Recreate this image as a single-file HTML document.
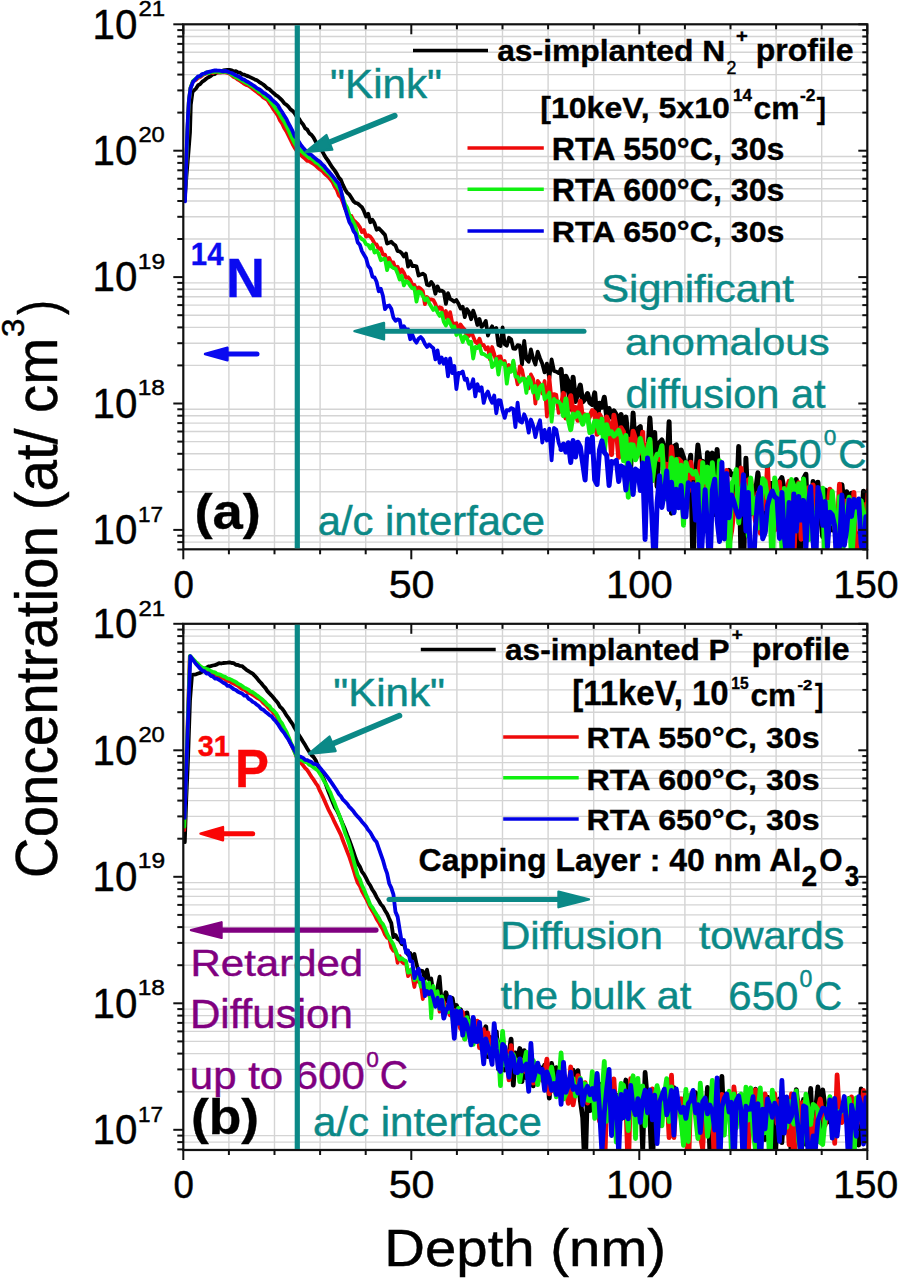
<!DOCTYPE html><html><head><meta charset="utf-8"><style>html,body{margin:0;padding:0;background:#fff;width:901px;height:1280px;overflow:hidden;}svg text{font-family:"Liberation Sans",sans-serif;}</style></head><body><svg width="901" height="1280" viewBox="0 0 901 1280" style="position:absolute;left:0;top:0">
<defs>
<clipPath id="clipa"><rect x="183.3" y="24.3" width="684.0" height="525.0"/></clipPath>
<clipPath id="clipb"><rect x="183.3" y="623.8" width="684.0" height="526.2"/></clipPath>
</defs>
<rect width="901" height="1280" fill="#fff"/>
<g stroke="#d4d4d4" stroke-width="1.4"><line x1="228.9" y1="24.3" x2="228.9" y2="549.3"/><line x1="274.5" y1="24.3" x2="274.5" y2="549.3"/><line x1="320.1" y1="24.3" x2="320.1" y2="549.3"/><line x1="365.7" y1="24.3" x2="365.7" y2="549.3"/><line x1="456.9" y1="24.3" x2="456.9" y2="549.3"/><line x1="502.5" y1="24.3" x2="502.5" y2="549.3"/><line x1="548.1" y1="24.3" x2="548.1" y2="549.3"/><line x1="593.7" y1="24.3" x2="593.7" y2="549.3"/><line x1="684.9" y1="24.3" x2="684.9" y2="549.3"/><line x1="730.5" y1="24.3" x2="730.5" y2="549.3"/><line x1="776.1" y1="24.3" x2="776.1" y2="549.3"/><line x1="821.7" y1="24.3" x2="821.7" y2="549.3"/><line x1="183.3" y1="542.1" x2="867.3" y2="542.1"/><line x1="183.3" y1="535.7" x2="867.3" y2="535.7"/><line x1="183.3" y1="491.8" x2="867.3" y2="491.8"/><line x1="183.3" y1="469.6" x2="867.3" y2="469.6"/><line x1="183.3" y1="453.8" x2="867.3" y2="453.8"/><line x1="183.3" y1="441.6" x2="867.3" y2="441.6"/><line x1="183.3" y1="431.5" x2="867.3" y2="431.5"/><line x1="183.3" y1="423.1" x2="867.3" y2="423.1"/><line x1="183.3" y1="415.7" x2="867.3" y2="415.7"/><line x1="183.3" y1="409.3" x2="867.3" y2="409.3"/><line x1="183.3" y1="365.4" x2="867.3" y2="365.4"/><line x1="183.3" y1="343.2" x2="867.3" y2="343.2"/><line x1="183.3" y1="327.4" x2="867.3" y2="327.4"/><line x1="183.3" y1="315.2" x2="867.3" y2="315.2"/><line x1="183.3" y1="305.1" x2="867.3" y2="305.1"/><line x1="183.3" y1="296.7" x2="867.3" y2="296.7"/><line x1="183.3" y1="289.3" x2="867.3" y2="289.3"/><line x1="183.3" y1="282.9" x2="867.3" y2="282.9"/><line x1="183.3" y1="239.0" x2="867.3" y2="239.0"/><line x1="183.3" y1="216.8" x2="867.3" y2="216.8"/><line x1="183.3" y1="201.0" x2="867.3" y2="201.0"/><line x1="183.3" y1="188.8" x2="867.3" y2="188.8"/><line x1="183.3" y1="178.7" x2="867.3" y2="178.7"/><line x1="183.3" y1="170.3" x2="867.3" y2="170.3"/><line x1="183.3" y1="162.9" x2="867.3" y2="162.9"/><line x1="183.3" y1="156.5" x2="867.3" y2="156.5"/><line x1="183.3" y1="112.6" x2="867.3" y2="112.6"/><line x1="183.3" y1="90.4" x2="867.3" y2="90.4"/><line x1="183.3" y1="74.6" x2="867.3" y2="74.6"/><line x1="183.3" y1="62.4" x2="867.3" y2="62.4"/><line x1="183.3" y1="52.3" x2="867.3" y2="52.3"/><line x1="183.3" y1="43.9" x2="867.3" y2="43.9"/><line x1="183.3" y1="36.5" x2="867.3" y2="36.5"/><line x1="183.3" y1="30.1" x2="867.3" y2="30.1"/></g>
<g stroke="#d4d4d4" stroke-width="1.4"><line x1="228.9" y1="623.8" x2="228.9" y2="1150.0"/><line x1="274.5" y1="623.8" x2="274.5" y2="1150.0"/><line x1="320.1" y1="623.8" x2="320.1" y2="1150.0"/><line x1="365.7" y1="623.8" x2="365.7" y2="1150.0"/><line x1="456.9" y1="623.8" x2="456.9" y2="1150.0"/><line x1="502.5" y1="623.8" x2="502.5" y2="1150.0"/><line x1="548.1" y1="623.8" x2="548.1" y2="1150.0"/><line x1="593.7" y1="623.8" x2="593.7" y2="1150.0"/><line x1="684.9" y1="623.8" x2="684.9" y2="1150.0"/><line x1="730.5" y1="623.8" x2="730.5" y2="1150.0"/><line x1="776.1" y1="623.8" x2="776.1" y2="1150.0"/><line x1="821.7" y1="623.8" x2="821.7" y2="1150.0"/><line x1="183.3" y1="1149.4" x2="867.3" y2="1149.4"/><line x1="183.3" y1="1142.1" x2="867.3" y2="1142.1"/><line x1="183.3" y1="1135.6" x2="867.3" y2="1135.6"/><line x1="183.3" y1="1091.7" x2="867.3" y2="1091.7"/><line x1="183.3" y1="1069.4" x2="867.3" y2="1069.4"/><line x1="183.3" y1="1053.6" x2="867.3" y2="1053.6"/><line x1="183.3" y1="1041.4" x2="867.3" y2="1041.4"/><line x1="183.3" y1="1031.4" x2="867.3" y2="1031.4"/><line x1="183.3" y1="1022.9" x2="867.3" y2="1022.9"/><line x1="183.3" y1="1015.6" x2="867.3" y2="1015.6"/><line x1="183.3" y1="1009.1" x2="867.3" y2="1009.1"/><line x1="183.3" y1="965.2" x2="867.3" y2="965.2"/><line x1="183.3" y1="942.9" x2="867.3" y2="942.9"/><line x1="183.3" y1="927.1" x2="867.3" y2="927.1"/><line x1="183.3" y1="914.9" x2="867.3" y2="914.9"/><line x1="183.3" y1="904.9" x2="867.3" y2="904.9"/><line x1="183.3" y1="896.4" x2="867.3" y2="896.4"/><line x1="183.3" y1="889.1" x2="867.3" y2="889.1"/><line x1="183.3" y1="882.6" x2="867.3" y2="882.6"/><line x1="183.3" y1="838.7" x2="867.3" y2="838.7"/><line x1="183.3" y1="816.4" x2="867.3" y2="816.4"/><line x1="183.3" y1="800.6" x2="867.3" y2="800.6"/><line x1="183.3" y1="788.4" x2="867.3" y2="788.4"/><line x1="183.3" y1="778.4" x2="867.3" y2="778.4"/><line x1="183.3" y1="769.9" x2="867.3" y2="769.9"/><line x1="183.3" y1="762.6" x2="867.3" y2="762.6"/><line x1="183.3" y1="756.1" x2="867.3" y2="756.1"/><line x1="183.3" y1="712.2" x2="867.3" y2="712.2"/><line x1="183.3" y1="689.9" x2="867.3" y2="689.9"/><line x1="183.3" y1="674.1" x2="867.3" y2="674.1"/><line x1="183.3" y1="661.9" x2="867.3" y2="661.9"/><line x1="183.3" y1="651.9" x2="867.3" y2="651.9"/><line x1="183.3" y1="643.4" x2="867.3" y2="643.4"/><line x1="183.3" y1="636.1" x2="867.3" y2="636.1"/><line x1="183.3" y1="629.6" x2="867.3" y2="629.6"/></g>
<path d="M184.6,200.8 L186.5,175.4 L188.5,151.8 L190.0,132.3 L190.8,104.8 L192.5,91.9 L196.0,88.5 L198.1,85.2 L200.2,84.1 L202.3,81.6 L204.4,80.3 L206.5,78.5 L208.6,77.2 L210.7,76.1 L212.8,74.3 L214.9,74.0 L217.0,72.3 L219.1,72.3 L221.2,72.4 L223.3,70.5 L225.4,70.2 L227.5,69.9 L229.6,69.9 L231.7,70.3 L233.8,71.8 L235.9,71.2 L238.0,72.4 L240.1,72.7 L242.2,74.3 L244.3,74.6 L246.4,75.6 L248.5,76.4 L250.6,77.4 L252.7,78.4 L254.8,79.4 L256.9,80.3 L259.0,81.8 L261.1,83.2 L263.2,84.5 L265.3,86.3 L267.4,88.3 L269.5,89.3 L271.6,91.4 L273.7,93.2 L275.8,95.2 L277.9,96.4 L280.0,98.3 L282.1,100.4 L284.2,103.2 L286.3,104.7 L288.4,106.7 L290.5,109.4 L292.6,110.8 L294.7,113.4 L296.8,116.6 L298.9,118.6 L301.0,122.0 L303.1,124.4 L305.2,128.3 L307.3,129.7 L309.4,133.4 L311.5,134.8 L313.6,137.6 L315.7,141.6 L317.8,144.3 L319.9,148.1 L322.0,150.8 L324.1,154.7 L326.2,158.2 L328.3,161.0 L330.4,164.4 L332.5,167.7 L334.6,170.4 L336.7,173.6 L338.8,177.6 L340.9,179.9 L343.0,185.1 L345.1,189.4 L347.2,192.8 L349.3,194.4 L351.4,197.7 L353.5,201.2 L355.6,202.9 L357.7,203.5 L359.8,205.4 L361.9,207.2 L364.0,211.2 L366.1,216.6 L368.2,213.8 L370.3,222.2 L372.4,219.7 L374.5,223.3 L376.6,229.7 L378.7,228.2 L380.8,230.3 L382.9,232.6 L385.0,234.9 L387.1,243.6 L389.2,242.7 L391.3,241.7 L393.4,244.0 L395.5,245.6 L397.6,251.2 L399.7,251.4 L401.8,253.2 L403.9,256.5 L406.0,253.6 L408.1,266.6 L410.2,261.1 L412.3,266.1 L414.4,265.9 L416.5,266.4 L418.6,275.5 L420.7,274.6 L422.8,273.7 L424.9,275.0 L427.0,284.7 L429.1,285.4 L431.2,281.9 L433.3,284.8 L435.4,293.7 L437.5,286.4 L439.6,291.0 L441.7,290.6 L443.8,292.0 L445.9,303.9 L448.0,293.1 L450.1,298.9 L452.2,300.2 L454.3,301.6 L456.4,300.1 L458.5,303.7 L460.6,308.6 L462.7,306.7 L464.8,317.1 L466.9,309.1 L469.0,312.0 L471.1,319.2 L473.2,310.7 L475.3,316.8 L477.4,325.0 L479.5,319.0 L481.6,326.9 L483.7,324.7 L485.8,320.9 L487.9,335.6 L490.0,330.1 L492.1,326.3 L494.2,331.0 L496.3,328.1 L498.4,345.1 L500.5,346.0 L502.6,327.4 L504.7,344.2 L506.8,345.7 L509.0,337.8 L511.1,339.3 L513.3,348.6 L515.4,348.9 L517.6,345.1 L519.8,345.7 L522.0,364.6 L524.2,340.8 L526.4,359.0 L528.7,361.7 L530.9,349.4 L533.2,358.9 L535.4,364.6 L537.7,351.7 L540.0,358.2 L542.3,363.8 L544.6,372.4 L546.9,363.6 L549.3,378.7 L551.6,359.5 L554.0,370.9 L556.3,371.6 L558.7,373.1 L561.1,369.4" fill="none" stroke="#000000" stroke-width="3.8" stroke-linejoin="round" stroke-linecap="round" clip-path="url(#clipa)"/>
<path d="M561.1,369.4 L563.5,397.6 L565.9,376.2 L568.3,381.7 L570.7,409.1 L573.1,377.3 L575.5,401.4 L577.9,392.9 L580.3,385.1 L582.7,401.9 L585.1,399.2 L587.5,393.5 L589.9,402.5 L592.3,404.5 L594.7,392.9 L597.1,421.5 L599.5,403.2 L601.9,407.1 L604.3,397.3 L606.7,416.1 L609.1,408.5 L611.5,417.2 L613.9,410.8 L616.3,414.7 L618.7,433.4 L621.1,414.5 L623.5,436.9 L625.9,417.0 L628.3,440.0 L630.7,467.4 L633.1,413.1 L635.5,452.2 L637.9,428.9 L640.3,426.6 L642.7,468.1 L645.1,462.2 L647.5,460.1 L649.9,418.1 L652.3,455.4 L654.7,432.5 L657.1,486.5 L659.5,442.6 L661.9,440.0 L664.3,448.1 L666.7,473.9 L669.1,421.8 L671.5,513.2 L673.9,446.5 L676.3,444.9 L678.7,476.4 L681.1,450.0 L683.5,457.2 L685.9,466.2 L688.3,468.8 L690.7,455.3 L693.1,574.3 L695.5,476.5 L697.9,445.0 L700.3,464.6 L702.7,461.5 L705.1,501.6 L707.5,452.7 L709.9,466.7 L712.3,453.1 L714.7,514.6 L717.1,449.4 L719.5,486.4 L721.9,507.9 L724.3,482.1 L726.7,475.6 L729.1,470.4 L731.5,474.8 L733.9,474.0 L736.3,507.8 L738.7,446.5 L741.1,564.5 L743.5,574.3 L745.9,458.2 L748.3,514.9 L750.7,514.0 L753.1,486.7 L755.5,492.3 L757.9,472.8 L760.3,491.9 L762.7,512.4 L765.1,530.9 L767.5,486.3 L769.9,483.5 L772.3,483.5 L774.7,496.1 L777.1,523.3 L779.5,481.8 L781.9,477.6 L784.3,490.2 L786.7,487.5 L789.1,495.3 L791.5,574.3 L793.9,543.7 L796.3,479.5 L798.7,574.3 L801.1,550.8 L803.5,478.6 L805.9,474.3 L808.3,534.3 L810.7,514.9 L813.1,481.4 L815.5,542.2 L817.9,482.3 L820.3,513.0 L822.7,536.5 L825.1,490.0 L827.5,492.0 L829.9,490.2 L832.3,530.1 L834.7,512.7 L837.1,553.5 L839.5,508.6 L841.9,484.8 L844.3,506.6 L846.7,491.7 L849.1,513.6 L851.5,493.2 L853.9,574.3 L856.3,533.5 L858.7,543.2 L861.1,527.5 L863.5,491.2 L865.9,494.1 L868.3,502.8" fill="none" stroke="#000000" stroke-width="5.0" stroke-linejoin="round" stroke-linecap="round" clip-path="url(#clipa)"/>
<path d="M184.8,195.8 L186.2,165.4 L187.5,130.2 L188.8,101.9 L190.5,87.9 L193.0,81.4 L196.0,79.8 L198.1,77.9 L200.2,77.0 L202.3,75.4 L204.4,74.1 L206.5,73.4 L208.6,73.2 L210.7,72.5 L212.8,73.0 L214.9,72.0 L217.0,72.5 L219.1,72.4 L221.2,72.3 L223.3,72.4 L225.4,72.3 L227.5,72.9 L229.6,73.6 L231.7,75.3 L233.8,77.1 L235.9,78.0 L238.0,79.7 L240.1,80.9 L242.2,82.3 L244.3,83.9 L246.4,85.0 L248.5,85.7 L250.6,87.1 L252.7,88.9 L254.8,90.4 L256.9,92.0 L259.0,93.7 L261.1,95.2 L263.2,97.3 L265.3,98.6 L267.4,100.0 L269.5,103.3 L271.6,106.2 L273.7,109.7 L275.8,112.5 L277.9,115.7 L280.0,120.4 L282.1,123.5 L284.2,128.0 L286.3,131.1 L288.4,135.3 L290.5,139.6 L292.6,144.0 L294.7,147.8 L296.8,150.8 L298.9,153.3 L301.0,155.1 L303.1,157.0 L305.2,158.8 L307.3,160.9 L309.4,161.1 L311.5,162.6 L313.6,164.0 L315.7,165.6 L317.8,167.5 L319.9,169.4 L322.0,170.6 L324.1,173.0 L326.2,175.0 L328.3,176.8 L330.4,179.4 L332.5,182.0 L334.6,186.5 L336.7,189.6 L338.8,195.3 L340.9,197.4 L343.0,202.6 L345.1,208.6 L347.2,211.9 L349.3,215.7 L351.4,216.0 L353.5,220.3 L355.6,222.0 L357.7,224.1 L359.8,227.1 L361.9,232.1 L364.0,230.1 L366.1,236.6 L368.2,235.3 L370.3,236.7 L372.4,239.4 L374.5,243.4 L376.6,244.5 L378.7,248.9 L380.8,248.3 L382.9,254.5 L385.0,254.6 L387.1,261.8 L389.2,257.9 L391.3,262.7 L393.4,262.5 L395.5,268.6 L397.6,266.7 L399.7,273.0 L401.8,269.4 L403.9,272.7 L406.0,277.9 L408.1,277.2 L410.2,279.7 L412.3,284.7 L414.4,285.0 L416.5,290.3 L418.6,287.4 L420.7,288.9 L422.8,291.0 L424.9,304.1 L427.0,297.0 L429.1,299.7 L431.2,299.4 L433.3,300.0 L435.4,303.9 L437.5,310.6 L439.6,307.3 L441.7,308.0 L443.8,318.4 L445.9,311.0 L448.0,321.7 L450.1,312.1 L452.2,322.7 L454.3,323.9 L456.4,323.3 L458.5,332.4 L460.6,324.5 L462.7,327.5 L464.8,329.8 L466.9,336.1 L469.0,336.0 L471.1,331.4 L473.2,336.6 L475.3,341.8 L477.4,343.6 L479.5,338.7 L481.6,345.0 L483.7,345.0 L485.8,349.4 L487.9,347.2 L490.0,359.4 L492.1,347.0 L494.2,353.9 L496.3,362.1 L498.4,356.7 L500.5,356.4 L502.6,363.7 L504.7,361.1 L506.8,369.3 L509.0,365.1 L511.1,371.4 L513.3,362.1 L515.4,373.0 L517.6,384.3 L519.8,366.3 L522.0,369.7 L524.2,380.8 L526.4,379.5 L528.7,388.3 L530.9,374.5 L533.2,379.1 L535.4,403.6 L537.7,381.0 L540.0,384.1 L542.3,393.5 L544.6,381.0 L546.9,416.5 L549.3,376.9 L551.6,400.9 L554.0,394.1 L556.3,394.9 L558.7,412.9 L561.1,407.5" fill="none" stroke="#ee0a0a" stroke-width="3.8" stroke-linejoin="round" stroke-linecap="round" clip-path="url(#clipa)"/>
<path d="M561.1,407.5 L563.5,393.4 L565.9,417.9 L568.3,403.7 L570.7,395.7 L573.1,412.1 L575.5,407.5 L577.9,420.3 L580.3,401.2 L582.7,419.6 L585.1,414.9 L587.5,420.4 L589.9,415.9 L592.3,410.7 L594.7,412.7 L597.1,434.3 L599.5,414.6 L601.9,419.2 L604.3,443.8 L606.7,417.0 L609.1,423.9 L611.5,454.6 L613.9,415.2 L616.3,428.6 L618.7,457.2 L621.1,427.8 L623.5,431.8 L625.9,449.9 L628.3,439.0 L630.7,456.2 L633.1,431.3 L635.5,438.9 L637.9,455.3 L640.3,449.2 L642.7,432.3 L645.1,492.3 L647.5,444.5 L649.9,441.6 L652.3,480.7 L654.7,458.5 L657.1,456.9 L659.5,459.5 L661.9,446.2 L664.3,475.6 L666.7,464.2 L669.1,488.9 L671.5,447.0 L673.9,474.0 L676.3,471.3 L678.7,459.3 L681.1,461.7 L683.5,488.7 L685.9,488.9 L688.3,491.2 L690.7,462.2 L693.1,477.8 L695.5,472.1 L697.9,483.5 L700.3,461.6 L702.7,487.1 L705.1,468.0 L707.5,492.9 L709.9,514.4 L712.3,472.4 L714.7,489.3 L717.1,477.7 L719.5,482.9 L721.9,474.1 L724.3,514.5 L726.7,470.4 L729.1,544.0 L731.5,531.4 L733.9,510.8 L736.3,496.7 L738.7,482.5 L741.1,468.1 L743.5,489.6 L745.9,516.6 L748.3,479.8 L750.7,479.7 L753.1,503.0 L755.5,521.4 L757.9,493.1 L760.3,533.2 L762.7,484.5 L765.1,508.8 L767.5,467.0 L769.9,519.7 L772.3,510.2 L774.7,530.1 L777.1,524.2 L779.5,482.1 L781.9,526.4 L784.3,501.8 L786.7,490.4 L789.1,481.4 L791.5,488.3 L793.9,555.2 L796.3,504.2 L798.7,482.7 L801.1,539.2 L803.5,502.9 L805.9,511.6 L808.3,487.7 L810.7,509.0 L813.1,484.9 L815.5,508.6 L817.9,493.2 L820.3,505.5 L822.7,509.9 L825.1,508.3 L827.5,513.5 L829.9,489.2 L832.3,495.0 L834.7,528.4 L837.1,532.7 L839.5,484.3 L841.9,538.4 L844.3,500.9 L846.7,503.9 L849.1,531.0 L851.5,533.1 L853.9,492.5 L856.3,562.9 L858.7,538.6 L861.1,533.2 L863.5,504.4 L865.9,535.5 L868.3,490.2" fill="none" stroke="#ee0a0a" stroke-width="5.0" stroke-linejoin="round" stroke-linecap="round" clip-path="url(#clipa)"/>
<path d="M184.8,196.0 L186.2,165.5 L187.5,129.9 L188.8,102.1 L190.5,87.9 L193.0,80.9 L196.0,78.5 L198.1,77.2 L200.2,75.8 L202.3,74.6 L204.4,73.8 L206.5,72.2 L208.6,73.2 L210.7,71.8 L212.8,71.6 L214.9,72.0 L217.0,71.4 L219.1,72.0 L221.2,71.8 L223.3,71.5 L225.4,71.8 L227.5,72.2 L229.6,73.0 L231.7,74.5 L233.8,75.5 L235.9,77.2 L238.0,78.1 L240.1,79.4 L242.2,80.5 L244.3,81.9 L246.4,83.0 L248.5,83.9 L250.6,85.5 L252.7,86.7 L254.8,88.2 L256.9,89.7 L259.0,91.8 L261.1,92.6 L263.2,94.7 L265.3,97.1 L267.4,98.0 L269.5,100.4 L271.6,103.1 L273.7,105.9 L275.8,108.6 L277.9,111.7 L280.0,114.9 L282.1,118.4 L284.2,121.7 L286.3,125.6 L288.4,129.9 L290.5,134.6 L292.6,139.1 L294.7,143.5 L296.8,146.6 L298.9,148.5 L301.0,150.8 L303.1,152.7 L305.2,154.4 L307.3,156.2 L309.4,157.8 L311.5,158.8 L313.6,160.3 L315.7,162.5 L317.8,163.4 L319.9,165.4 L322.0,167.2 L324.1,169.3 L326.2,171.4 L328.3,173.3 L330.4,175.3 L332.5,178.3 L334.6,181.8 L336.7,185.6 L338.8,188.3 L340.9,192.5 L343.0,198.0 L345.1,204.3 L347.2,207.7 L349.3,214.7 L351.4,218.7 L353.5,222.6 L355.6,227.1 L357.7,236.2 L359.8,237.1 L361.9,239.1 L364.0,240.4 L366.1,244.3 L368.2,245.0 L370.3,248.6 L372.4,244.7 L374.5,252.6 L376.6,250.7 L378.7,253.8 L380.8,260.2 L382.9,259.1 L385.0,258.7 L387.1,270.1 L389.2,262.6 L391.3,266.5 L393.4,268.1 L395.5,268.5 L397.6,273.5 L399.7,279.6 L401.8,275.8 L403.9,285.4 L406.0,281.3 L408.1,282.3 L410.2,285.8 L412.3,288.4 L414.4,288.0 L416.5,301.7 L418.6,291.5 L420.7,292.3 L422.8,295.9 L424.9,300.2 L427.0,298.2 L429.1,303.1 L431.2,306.5 L433.3,309.9 L435.4,307.5 L437.5,312.3 L439.6,315.9 L441.7,312.7 L443.8,321.8 L445.9,325.6 L448.0,319.7 L450.1,323.4 L452.2,327.5 L454.3,326.4 L456.4,335.0 L458.5,330.1 L460.6,335.6 L462.7,342.0 L464.8,336.2 L466.9,338.0 L469.0,343.7 L471.1,341.7 L473.2,358.5 L475.3,346.9 L477.4,348.0 L479.5,345.4 L481.6,353.8 L483.7,354.0 L485.8,355.5 L487.9,357.1 L490.0,354.4 L492.1,367.1 L494.2,365.0 L496.3,358.8 L498.4,374.6 L500.5,361.5 L502.6,363.9 L504.7,363.5 L506.8,383.7 L509.0,368.4 L511.1,371.7 L513.3,360.6 L515.4,376.5 L517.6,376.8 L519.8,381.7 L522.0,378.3 L524.2,378.6 L526.4,392.9 L528.7,377.1 L530.9,382.0 L533.2,392.5 L535.4,386.0 L537.7,398.6 L540.0,386.8 L542.3,384.7 L544.6,399.3 L546.9,396.9 L549.3,392.6 L551.6,421.7 L554.0,399.0 L556.3,401.8 L558.7,401.4 L561.1,405.2" fill="none" stroke="#10f010" stroke-width="3.8" stroke-linejoin="round" stroke-linecap="round" clip-path="url(#clipa)"/>
<path d="M561.1,405.2 L563.5,415.6 L565.9,399.0 L568.3,418.9 L570.7,429.6 L573.1,414.1 L575.5,416.7 L577.9,412.8 L580.3,417.2 L582.7,424.2 L585.1,415.7 L587.5,415.2 L589.9,432.6 L592.3,431.4 L594.7,421.3 L597.1,421.2 L599.5,432.8 L601.9,419.1 L604.3,451.7 L606.7,424.8 L609.1,433.6 L611.5,432.0 L613.9,436.0 L616.3,433.8 L618.7,430.4 L621.1,436.8 L623.5,460.8 L625.9,435.4 L628.3,497.2 L630.7,444.7 L633.1,444.9 L635.5,459.8 L637.9,454.0 L640.3,438.4 L642.7,448.5 L645.1,469.7 L647.5,449.4 L649.9,439.4 L652.3,480.6 L654.7,462.0 L657.1,454.2 L659.5,454.6 L661.9,445.7 L664.3,486.8 L666.7,498.9 L669.1,481.9 L671.5,457.9 L673.9,512.1 L676.3,459.6 L678.7,489.8 L681.1,465.3 L683.5,525.2 L685.9,462.4 L688.3,470.2 L690.7,470.2 L693.1,473.8 L695.5,471.5 L697.9,479.1 L700.3,526.6 L702.7,462.8 L705.1,481.9 L707.5,467.1 L709.9,574.3 L712.3,462.8 L714.7,489.7 L717.1,507.9 L719.5,460.7 L721.9,497.7 L724.3,524.3 L726.7,484.2 L729.1,574.3 L731.5,484.0 L733.9,480.4 L736.3,469.6 L738.7,523.0 L741.1,491.4 L743.5,482.0 L745.9,488.7 L748.3,535.9 L750.7,478.1 L753.1,513.0 L755.5,498.7 L757.9,528.1 L760.3,515.8 L762.7,478.7 L765.1,481.5 L767.5,498.2 L769.9,501.0 L772.3,574.3 L774.7,478.1 L777.1,492.0 L779.5,494.9 L781.9,548.0 L784.3,488.4 L786.7,530.8 L789.1,489.2 L791.5,479.6 L793.9,486.0 L796.3,530.8 L798.7,483.8 L801.1,496.0 L803.5,479.0 L805.9,507.0 L808.3,539.7 L810.7,493.7 L813.1,542.0 L815.5,529.0 L817.9,495.3 L820.3,497.6 L822.7,488.2 L825.1,574.3 L827.5,502.2 L829.9,524.0 L832.3,491.6 L834.7,523.3 L837.1,547.1 L839.5,496.7 L841.9,574.3 L844.3,510.8 L846.7,509.2 L849.1,497.2 L851.5,561.3 L853.9,525.7 L856.3,501.4 L858.7,499.7 L861.1,500.7 L863.5,515.0 L865.9,574.3 L868.3,503.8" fill="none" stroke="#10f010" stroke-width="5.0" stroke-linejoin="round" stroke-linecap="round" clip-path="url(#clipa)"/>
<path d="M185.0,201.4 L186.0,170.0 L187.0,139.9 L188.0,115.3 L189.0,99.8 L190.5,88.5 L193.0,81.9 L196.0,78.7 L198.1,76.4 L200.2,76.0 L202.3,74.0 L204.4,73.5 L206.5,72.6 L208.6,71.8 L210.7,71.5 L212.8,70.8 L214.9,70.3 L217.0,70.5 L219.1,70.6 L221.2,70.9 L223.3,71.4 L225.4,70.9 L227.5,71.6 L229.6,72.5 L231.7,73.0 L233.8,74.1 L235.9,75.3 L238.0,76.2 L240.1,77.3 L242.2,79.1 L244.3,79.7 L246.4,81.3 L248.5,82.2 L250.6,83.7 L252.7,85.0 L254.8,86.3 L256.9,88.2 L259.0,89.2 L261.1,90.6 L263.2,92.7 L265.3,93.6 L267.4,95.4 L269.5,96.8 L271.6,99.3 L273.7,101.2 L275.8,103.0 L277.9,105.3 L280.0,109.0 L282.1,112.0 L284.2,115.6 L286.3,118.7 L288.4,123.3 L290.5,127.0 L292.6,131.2 L294.7,136.3 L296.8,138.7 L298.9,141.9 L301.0,145.2 L303.1,147.8 L305.2,150.1 L307.3,152.1 L309.4,154.3 L311.5,155.0 L313.6,157.1 L315.7,158.7 L317.8,160.4 L319.9,161.8 L322.0,164.3 L324.1,166.0 L326.2,168.8 L328.3,171.1 L330.4,173.5 L332.5,176.0 L334.6,178.6 L336.7,181.3 L338.8,183.6 L340.9,190.2 L343.0,199.7 L345.1,208.2 L347.2,215.2 L349.3,221.9 L351.4,225.4 L353.5,231.1 L355.6,233.9 L357.7,242.4 L359.8,244.7 L361.9,251.1 L364.0,254.8 L366.1,258.3 L368.2,266.0 L370.3,268.6 L372.4,276.6 L374.5,277.4 L376.6,281.8 L378.7,291.2 L380.8,288.8 L382.9,295.7 L385.0,309.2 L387.1,306.1 L389.2,305.5 L391.3,308.8 L393.4,317.6 L395.5,320.8 L397.6,319.4 L399.7,320.0 L401.8,331.1 L403.9,326.3 L406.0,329.9 L408.1,329.4 L410.2,339.2 L412.3,334.6 L414.4,339.9 L416.5,342.7 L418.6,338.7 L420.7,337.1 L422.8,339.4 L424.9,343.9 L427.0,347.0 L429.1,344.5 L431.2,346.4 L433.3,348.2 L435.4,359.4 L437.5,350.4 L439.6,362.8 L441.7,357.5 L443.8,363.8 L445.9,358.7 L448.0,376.4 L450.1,358.3 L452.2,373.1 L454.3,366.0 L456.4,389.0 L458.5,372.9 L460.6,373.3 L462.7,371.5 L464.8,379.9 L466.9,378.8 L469.0,388.6 L471.1,386.4 L473.2,379.3 L475.3,396.4 L477.4,384.1 L479.5,390.8 L481.6,387.3 L483.7,402.9 L485.8,394.9 L487.9,391.5 L490.0,398.1 L492.1,402.8 L494.2,395.5 L496.3,413.3 L498.4,400.2 L500.5,400.4 L502.6,410.8 L504.7,417.9 L506.8,410.1 L509.0,410.5 L511.1,408.1 L513.3,409.0 L515.4,427.1 L517.6,402.6 L519.8,421.4 L522.0,422.6 L524.2,414.3 L526.4,419.7 L528.7,432.7 L530.9,419.5 L533.2,425.7 L535.4,437.1 L537.7,427.0 L540.0,420.3 L542.3,442.5 L544.6,429.9 L546.9,440.5 L549.3,428.6 L551.6,460.4 L554.0,427.9 L556.3,429.8 L558.7,442.9 L561.1,449.5" fill="none" stroke="#0000e6" stroke-width="3.8" stroke-linejoin="round" stroke-linecap="round" clip-path="url(#clipa)"/>
<path d="M561.1,449.5 L563.5,444.0 L565.9,452.0 L568.3,442.7 L570.7,462.4 L573.1,440.6 L575.5,457.0 L577.9,442.2 L580.3,446.8 L582.7,463.5 L585.1,480.0 L587.5,439.0 L589.9,451.7 L592.3,437.0 L594.7,479.8 L597.1,484.5 L599.5,449.8 L601.9,440.8 L604.3,452.2 L606.7,455.4 L609.1,485.5 L611.5,461.4 L613.9,463.0 L616.3,460.3 L618.7,481.4 L621.1,466.0 L623.5,467.6 L625.9,489.9 L628.3,463.3 L630.7,468.5 L633.1,494.4 L635.5,469.1 L637.9,471.0 L640.3,490.4 L642.7,462.9 L645.1,539.4 L647.5,458.0 L649.9,473.9 L652.3,525.0 L654.7,574.3 L657.1,502.7 L659.5,475.8 L661.9,507.4 L664.3,493.4 L666.7,471.0 L669.1,509.4 L671.5,482.3 L673.9,512.7 L676.3,489.2 L678.7,507.7 L681.1,485.4 L683.5,516.6 L685.9,516.8 L688.3,482.8 L690.7,485.6 L693.1,484.0 L695.5,520.0 L697.9,484.4 L700.3,574.3 L702.7,531.8 L705.1,489.7 L707.5,528.9 L709.9,574.3 L712.3,490.2 L714.7,479.2 L717.1,519.9 L719.5,541.5 L721.9,462.5 L724.3,539.0 L726.7,473.5 L729.1,517.8 L731.5,494.9 L733.9,501.7 L736.3,510.6 L738.7,517.0 L741.1,514.3 L743.5,474.7 L745.9,530.9 L748.3,492.4 L750.7,574.3 L753.1,574.3 L755.5,526.9 L757.9,496.2 L760.3,487.6 L762.7,538.7 L765.1,532.7 L767.5,505.3 L769.9,496.4 L772.3,491.1 L774.7,496.9 L777.1,498.5 L779.5,538.4 L781.9,492.4 L784.3,536.5 L786.7,557.7 L789.1,502.6 L791.5,574.3 L793.9,494.1 L796.3,531.1 L798.7,496.5 L801.1,519.9 L803.5,500.4 L805.9,547.8 L808.3,504.3 L810.7,486.7 L813.1,540.7 L815.5,574.3 L817.9,487.6 L820.3,497.3 L822.7,525.3 L825.1,501.6 L827.5,547.1 L829.9,512.2 L832.3,515.0 L834.7,526.1 L837.1,574.3 L839.5,546.4 L841.9,495.1 L844.3,545.3 L846.7,529.5 L849.1,500.1 L851.5,516.4 L853.9,499.4 L856.3,507.0 L858.7,499.0 L861.1,543.7 L863.5,558.2 L865.9,516.7 L868.3,523.3" fill="none" stroke="#0000e6" stroke-width="5.0" stroke-linejoin="round" stroke-linecap="round" clip-path="url(#clipa)"/>
<path d="M184.8,842.2 L186.2,800.2 L188.0,759.9 L190.0,700.4 L192.0,674.9 L196.0,674.3 L198.1,673.5 L200.2,672.9 L202.3,671.6 L204.4,669.6 L206.5,667.6 L208.6,666.4 L210.7,666.1 L212.8,665.5 L214.9,665.1 L217.0,664.4 L219.1,663.1 L221.2,663.5 L223.3,663.0 L225.4,662.9 L227.5,662.7 L229.6,662.4 L231.7,663.0 L233.8,663.2 L235.9,664.8 L238.0,665.0 L240.1,665.9 L242.2,666.1 L244.3,668.1 L246.4,669.8 L248.5,671.1 L250.6,672.5 L252.7,673.7 L254.8,675.8 L256.9,678.1 L259.0,680.9 L261.1,683.0 L263.2,685.7 L265.3,687.9 L267.4,691.1 L269.5,693.4 L271.6,695.6 L273.7,698.0 L275.8,700.6 L277.9,703.0 L280.0,706.8 L282.1,708.6 L284.2,711.5 L286.3,715.1 L288.4,717.8 L290.5,721.2 L292.6,724.1 L294.7,728.1 L296.8,731.6 L298.9,734.9 L301.0,738.3 L303.1,741.8 L305.2,745.1 L307.3,748.7 L309.4,752.1 L311.5,755.0 L313.6,757.0 L315.7,760.2 L317.8,765.4 L319.9,769.7 L322.0,775.0 L324.1,779.8 L326.2,785.3 L328.3,791.3 L330.4,796.6 L332.5,801.7 L334.6,806.9 L336.7,810.2 L338.8,814.5 L340.9,819.5 L343.0,824.6 L345.1,829.3 L347.2,835.0 L349.3,840.2 L351.4,845.9 L353.5,851.9 L355.6,858.3 L357.7,863.4 L359.8,866.6 L361.9,871.6 L364.0,874.4 L366.1,878.2 L368.2,882.5 L370.3,885.5 L372.4,889.8 L374.5,892.9 L376.6,897.2 L378.7,900.5 L380.8,904.2 L382.9,906.5 L385.0,910.4 L387.1,913.8 L389.2,918.6 L391.3,923.1 L393.4,937.1 L395.5,935.0 L397.6,939.0 L399.7,940.5 L401.8,944.1 L403.9,944.4 L406.0,950.6 L408.1,954.8 L410.2,952.9 L412.3,958.6 L414.4,954.0 L416.5,963.8 L418.6,971.9 L420.7,970.7 L422.8,971.2 L424.9,979.1 L427.0,969.6 L429.1,979.9 L431.2,978.6 L433.3,992.5 L435.4,999.7 L437.5,987.1 L439.6,976.6 L441.7,1002.5" fill="none" stroke="#000000" stroke-width="3.8" stroke-linejoin="round" stroke-linecap="round" clip-path="url(#clipb)"/>
<path d="M441.7,1002.5 L443.8,1002.6 L445.9,992.8 L448.0,1001.1 L450.1,1002.4 L452.2,998.3 L454.3,1011.0 L456.4,1005.5 L458.5,1011.7 L460.6,1009.9 L462.7,1018.4 L464.8,1032.4 L466.9,1013.0 L469.0,1029.5 L471.1,1024.7 L473.2,1018.7 L475.3,1030.2 L477.4,1036.7 L479.5,1037.0 L481.6,1048.9 L483.7,1034.2 L485.8,1026.7 L487.9,1056.5 L490.0,1037.5 L492.1,1053.0 L494.2,1039.0 L496.3,1031.7 L498.4,1068.9 L500.5,1050.4 L502.6,1035.4 L504.7,1070.1 L506.8,1060.7 L509.0,1054.9 L511.1,1039.1 L513.3,1085.1 L515.4,1052.8 L517.6,1059.5 L519.8,1048.5 L522.0,1081.5 L524.2,1050.7 L526.4,1077.9 L528.7,1057.6 L530.9,1069.8 L533.2,1085.8 L535.4,1070.0 L537.7,1067.2 L540.0,1067.3 L542.3,1075.8 L544.6,1065.2 L546.9,1066.1 L549.3,1098.0 L551.6,1063.5 L554.0,1078.7 L556.3,1067.7 L558.7,1089.3 L561.1,1081.9 L563.5,1074.6 L565.9,1080.2 L568.3,1098.2 L570.7,1093.7 L573.1,1070.2 L575.5,1081.3 L577.9,1070.7 L580.3,1100.3 L582.7,1117.6 L585.1,1175.0 L587.5,1087.3 L589.9,1110.7 L592.3,1079.7 L594.7,1089.3 L597.1,1102.0 L599.5,1084.1 L601.9,1099.8 L604.3,1075.4 L606.7,1119.0 L609.1,1091.9 L611.5,1093.7 L613.9,1133.9 L616.3,1100.1 L618.7,1095.3 L621.1,1118.8 L623.5,1096.4 L625.9,1080.0 L628.3,1100.1 L630.7,1085.6 L633.1,1091.2 L635.5,1109.2 L637.9,1110.7 L640.3,1087.8 L642.7,1151.1 L645.1,1072.5 L647.5,1100.7 L649.9,1120.0 L652.3,1175.0 L654.7,1091.9 L657.1,1092.3 L659.5,1113.3 L661.9,1105.8 L664.3,1090.8 L666.7,1103.5 L669.1,1088.3 L671.5,1111.2 L673.9,1087.6 L676.3,1101.3 L678.7,1102.6 L681.1,1113.5 L683.5,1103.9 L685.9,1094.0 L688.3,1114.7 L690.7,1100.3 L693.1,1103.4 L695.5,1092.6 L697.9,1111.4 L700.3,1110.5 L702.7,1101.1 L705.1,1119.9 L707.5,1087.4 L709.9,1152.8 L712.3,1095.4 L714.7,1111.5 L717.1,1122.2 L719.5,1093.9 L721.9,1076.3 L724.3,1129.4 L726.7,1097.9 L729.1,1101.9 L731.5,1102.6 L733.9,1101.7 L736.3,1113.6 L738.7,1102.5 L741.1,1110.0 L743.5,1147.2 L745.9,1104.5 L748.3,1116.6 L750.7,1094.3 L753.1,1108.9 L755.5,1089.2 L757.9,1149.5 L760.3,1129.4 L762.7,1107.4 L765.1,1139.6 L767.5,1097.1 L769.9,1125.4 L772.3,1106.1 L774.7,1175.0 L777.1,1118.7 L779.5,1098.9 L781.9,1142.6 L784.3,1103.3 L786.7,1100.9 L789.1,1099.7 L791.5,1166.1 L793.9,1114.0 L796.3,1089.6 L798.7,1112.8 L801.1,1132.1 L803.5,1099.5 L805.9,1144.4 L808.3,1117.2 L810.7,1088.4 L813.1,1139.2 L815.5,1110.0 L817.9,1087.0 L820.3,1141.5 L822.7,1089.9 L825.1,1106.7 L827.5,1122.1 L829.9,1120.1 L832.3,1109.7 L834.7,1127.8 L837.1,1100.9 L839.5,1105.9 L841.9,1105.0 L844.3,1106.2 L846.7,1114.8 L849.1,1098.5 L851.5,1103.6 L853.9,1111.9 L856.3,1108.4 L858.7,1145.0 L861.1,1089.0 L863.5,1100.6 L865.9,1133.5 L868.3,1101.6" fill="none" stroke="#000000" stroke-width="4.8" stroke-linejoin="round" stroke-linecap="round" clip-path="url(#clipb)"/>
<path d="M184.2,830.1 L189.8,656.4 L196.0,662.8 L198.1,664.9 L200.2,667.0 L202.3,668.2 L204.4,668.9 L206.5,670.0 L208.6,671.2 L210.7,672.0 L212.8,673.1 L214.9,674.3 L217.0,675.5 L219.1,675.8 L221.2,677.3 L223.3,678.1 L225.4,679.4 L227.5,681.0 L229.6,681.4 L231.7,682.7 L233.8,683.6 L235.9,684.8 L238.0,685.8 L240.1,687.6 L242.2,688.9 L244.3,689.7 L246.4,691.2 L248.5,692.9 L250.6,693.4 L252.7,694.8 L254.8,696.3 L256.9,697.8 L259.0,698.9 L261.1,700.2 L263.2,702.8 L265.3,704.5 L267.4,706.7 L269.5,709.1 L271.6,710.4 L273.7,713.3 L275.8,715.1 L277.9,718.7 L280.0,722.7 L282.1,725.8 L284.2,729.6 L286.3,733.7 L288.4,737.8 L290.5,743.2 L292.6,747.6 L294.7,751.8 L296.8,757.7 L298.9,759.9 L301.0,762.8 L303.1,765.4 L305.2,768.2 L307.3,770.2 L309.4,773.4 L311.5,776.8 L313.6,779.7 L315.7,783.1 L317.8,785.9 L319.9,790.9 L322.0,795.0 L324.1,799.6 L326.2,804.4 L328.3,809.3 L330.4,813.3 L332.5,817.5 L334.6,822.2 L336.7,826.3 L338.8,830.6 L340.9,834.9 L343.0,840.8 L345.1,846.1 L347.2,851.5 L349.3,856.9 L351.4,863.1 L353.5,869.7 L355.6,876.6 L357.7,882.8 L359.8,885.9 L361.9,891.0 L364.0,894.8 L366.1,898.5 L368.2,903.0 L370.3,907.3 L372.4,911.1 L374.5,914.4 L376.6,918.9 L378.7,922.2 L380.8,926.1 L382.9,929.4 L385.0,934.4 L387.1,937.6 L389.2,938.4 L391.3,947.5 L393.4,950.7 L395.5,950.0 L397.6,962.8 L399.7,956.1 L401.8,961.7 L403.9,963.4 L406.0,962.7 L408.1,976.2 L410.2,970.3 L412.3,974.9 L414.4,987.0 L416.5,974.6 L418.6,981.9 L420.7,983.2 L422.8,999.0 L424.9,985.7 L427.0,987.6 L429.1,995.7 L431.2,995.9 L433.3,1000.4 L435.4,997.0 L437.5,996.0 L439.6,1011.7 L441.7,999.3" fill="none" stroke="#ee0a0a" stroke-width="3.8" stroke-linejoin="round" stroke-linecap="round" clip-path="url(#clipb)"/>
<path d="M441.7,999.3 L443.8,1002.9 L445.9,1010.1 L448.0,1007.8 L450.1,1014.8 L452.2,1011.1 L454.3,1010.6 L456.4,1015.6 L458.5,1019.8 L460.6,1028.3 L462.7,1012.4 L464.8,1038.8 L466.9,1021.5 L469.0,1021.8 L471.1,1037.5 L473.2,1032.2 L475.3,1036.6 L477.4,1021.1 L479.5,1047.6 L481.6,1046.8 L483.7,1029.7 L485.8,1039.0 L487.9,1032.9 L490.0,1054.6 L492.1,1048.6 L494.2,1036.5 L496.3,1055.7 L498.4,1056.9 L500.5,1046.2 L502.6,1048.5 L504.7,1058.1 L506.8,1051.4 L509.0,1079.8 L511.1,1045.7 L513.3,1061.3 L515.4,1063.8 L517.6,1060.3 L519.8,1067.0 L522.0,1060.2 L524.2,1070.6 L526.4,1072.2 L528.7,1065.0 L530.9,1070.8 L533.2,1083.0 L535.4,1081.9 L537.7,1066.0 L540.0,1072.7 L542.3,1080.2 L544.6,1073.1 L546.9,1059.1 L549.3,1093.9 L551.6,1082.8 L554.0,1091.2 L556.3,1083.1 L558.7,1076.0 L561.1,1070.3 L563.5,1080.8 L565.9,1091.4 L568.3,1103.3 L570.7,1066.9 L573.1,1104.9 L575.5,1090.2 L577.9,1075.6 L580.3,1087.1 L582.7,1092.9 L585.1,1082.6 L587.5,1103.1 L589.9,1096.6 L592.3,1081.2 L594.7,1102.4 L597.1,1086.9 L599.5,1121.1 L601.9,1086.2 L604.3,1175.0 L606.7,1102.5 L609.1,1093.1 L611.5,1117.7 L613.9,1078.9 L616.3,1118.7 L618.7,1096.3 L621.1,1095.3 L623.5,1090.3 L625.9,1103.7 L628.3,1175.0 L630.7,1078.7 L633.1,1113.4 L635.5,1083.9 L637.9,1117.1 L640.3,1095.7 L642.7,1101.5 L645.1,1093.2 L647.5,1105.7 L649.9,1110.9 L652.3,1089.0 L654.7,1097.2 L657.1,1089.8 L659.5,1125.8 L661.9,1101.9 L664.3,1103.2 L666.7,1087.4 L669.1,1137.6 L671.5,1075.2 L673.9,1137.5 L676.3,1096.5 L678.7,1107.0 L681.1,1098.7 L683.5,1107.1 L685.9,1111.0 L688.3,1175.0 L690.7,1095.9 L693.1,1091.4 L695.5,1103.9 L697.9,1120.0 L700.3,1135.6 L702.7,1149.1 L705.1,1099.6 L707.5,1121.0 L709.9,1105.3 L712.3,1109.0 L714.7,1175.0 L717.1,1118.0 L719.5,1145.7 L721.9,1094.3 L724.3,1120.6 L726.7,1106.1 L729.1,1098.3 L731.5,1141.8 L733.9,1086.8 L736.3,1107.6 L738.7,1116.7 L741.1,1120.4 L743.5,1102.8 L745.9,1158.1 L748.3,1157.6 L750.7,1090.3 L753.1,1112.7 L755.5,1090.0 L757.9,1125.9 L760.3,1146.0 L762.7,1121.4 L765.1,1093.8 L767.5,1129.2 L769.9,1107.2 L772.3,1095.2 L774.7,1093.7 L777.1,1123.4 L779.5,1101.0 L781.9,1109.2 L784.3,1109.9 L786.7,1098.0 L789.1,1144.7 L791.5,1093.9 L793.9,1175.0 L796.3,1110.4 L798.7,1102.0 L801.1,1143.4 L803.5,1102.1 L805.9,1115.8 L808.3,1141.5 L810.7,1120.0 L813.1,1138.5 L815.5,1122.2 L817.9,1108.5 L820.3,1099.0 L822.7,1115.4 L825.1,1125.5 L827.5,1108.6 L829.9,1113.5 L832.3,1099.9 L834.7,1143.4 L837.1,1074.9 L839.5,1116.6 L841.9,1122.5 L844.3,1105.5 L846.7,1114.2 L849.1,1121.4 L851.5,1096.8 L853.9,1115.8 L856.3,1129.1 L858.7,1107.8 L861.1,1122.4 L863.5,1090.3 L865.9,1108.5 L868.3,1115.8" fill="none" stroke="#ee0a0a" stroke-width="4.8" stroke-linejoin="round" stroke-linecap="round" clip-path="url(#clipb)"/>
<path d="M184.3,826.6 L190.0,655.9 L196.0,662.1 L198.1,664.0 L200.2,666.2 L202.3,667.6 L204.4,668.1 L206.5,668.9 L208.6,669.5 L210.7,671.1 L212.8,671.8 L214.9,672.3 L217.0,674.0 L219.1,674.3 L221.2,675.1 L223.3,676.3 L225.4,676.9 L227.5,678.5 L229.6,678.9 L231.7,679.9 L233.8,681.1 L235.9,682.0 L238.0,683.8 L240.1,684.7 L242.2,686.0 L244.3,687.7 L246.4,688.6 L248.5,689.7 L250.6,691.6 L252.7,692.2 L254.8,693.7 L256.9,695.4 L259.0,696.9 L261.1,698.6 L263.2,700.3 L265.3,702.2 L267.4,704.7 L269.5,706.0 L271.6,709.2 L273.7,710.6 L275.8,713.1 L277.9,716.6 L280.0,720.8 L282.1,723.5 L284.2,727.8 L286.3,731.6 L288.4,736.4 L290.5,741.8 L292.6,746.3 L294.7,752.5 L296.8,756.6 L298.9,758.6 L301.0,759.8 L303.1,760.8 L305.2,762.0 L307.3,762.6 L309.4,764.9 L311.5,765.9 L313.6,767.4 L315.7,768.9 L317.8,770.5 L319.9,773.7 L322.0,777.1 L324.1,781.2 L326.2,784.3 L328.3,788.8 L330.4,792.7 L332.5,798.4 L334.6,803.1 L336.7,808.8 L338.8,813.9 L340.9,819.6 L343.0,826.1 L345.1,833.0 L347.2,838.4 L349.3,844.5 L351.4,851.9 L353.5,860.0 L355.6,868.0 L357.7,875.4 L359.8,878.9 L361.9,885.2 L364.0,889.5 L366.1,894.9 L368.2,899.5 L370.3,905.0 L372.4,907.4 L374.5,911.3 L376.6,914.6 L378.7,917.7 L380.8,921.9 L382.9,924.0 L385.0,928.6 L387.1,933.9 L389.2,937.9 L391.3,941.1 L393.4,944.5 L395.5,950.6 L397.6,955.5 L399.7,959.6 L401.8,958.2 L403.9,960.1 L406.0,961.0 L408.1,972.7 L410.2,972.0 L412.3,968.2 L414.4,980.1 L416.5,978.1 L418.6,976.5 L420.7,986.6 L422.8,986.4 L424.9,981.9 L427.0,992.0 L429.1,982.7 L431.2,1018.4 L433.3,985.9 L435.4,1001.8 L437.5,991.2 L439.6,1009.2 L441.7,996.8" fill="none" stroke="#10f010" stroke-width="3.8" stroke-linejoin="round" stroke-linecap="round" clip-path="url(#clipb)"/>
<path d="M441.7,996.8 L443.8,1011.7 L445.9,1009.7 L448.0,1011.6 L450.1,1001.3 L452.2,1014.2 L454.3,1027.1 L456.4,1013.3 L458.5,1008.5 L460.6,1020.6 L462.7,1020.5 L464.8,1039.2 L466.9,1017.6 L469.0,1032.6 L471.1,1021.3 L473.2,1044.3 L475.3,1029.6 L477.4,1031.2 L479.5,1028.8 L481.6,1045.1 L483.7,1040.0 L485.8,1039.4 L487.9,1045.5 L490.0,1054.1 L492.1,1051.0 L494.2,1041.8 L496.3,1039.4 L498.4,1046.7 L500.5,1085.7 L502.6,1031.5 L504.7,1064.8 L506.8,1057.9 L509.0,1056.0 L511.1,1063.9 L513.3,1054.7 L515.4,1061.5 L517.6,1060.7 L519.8,1081.7 L522.0,1066.1 L524.2,1062.4 L526.4,1052.1 L528.7,1072.0 L530.9,1075.0 L533.2,1060.4 L535.4,1065.3 L537.7,1084.6 L540.0,1069.9 L542.3,1077.6 L544.6,1077.8 L546.9,1073.3 L549.3,1076.3 L551.6,1067.1 L554.0,1082.0 L556.3,1096.8 L558.7,1086.0 L561.1,1053.0 L563.5,1099.0 L565.9,1093.7 L568.3,1083.1 L570.7,1085.5 L573.1,1078.5 L575.5,1096.2 L577.9,1089.9 L580.3,1078.4 L582.7,1088.6 L585.1,1083.8 L587.5,1100.1 L589.9,1100.7 L592.3,1071.7 L594.7,1118.3 L597.1,1075.2 L599.5,1117.1 L601.9,1097.2 L604.3,1061.3 L606.7,1121.4 L609.1,1095.7 L611.5,1107.6 L613.9,1095.7 L616.3,1142.2 L618.7,1108.5 L621.1,1083.5 L623.5,1085.2 L625.9,1103.3 L628.3,1130.6 L630.7,1089.4 L633.1,1075.8 L635.5,1138.5 L637.9,1078.3 L640.3,1119.1 L642.7,1085.9 L645.1,1125.8 L647.5,1093.2 L649.9,1097.7 L652.3,1099.1 L654.7,1097.2 L657.1,1085.7 L659.5,1096.0 L661.9,1125.9 L664.3,1095.1 L666.7,1078.7 L669.1,1121.5 L671.5,1087.0 L673.9,1098.8 L676.3,1108.3 L678.7,1103.1 L681.1,1120.9 L683.5,1145.3 L685.9,1089.3 L688.3,1141.5 L690.7,1094.7 L693.1,1094.1 L695.5,1116.5 L697.9,1138.6 L700.3,1083.2 L702.7,1110.9 L705.1,1101.0 L707.5,1136.4 L709.9,1120.3 L712.3,1080.5 L714.7,1108.5 L717.1,1089.6 L719.5,1144.1 L721.9,1108.9 L724.3,1135.2 L726.7,1100.4 L729.1,1091.3 L731.5,1155.0 L733.9,1094.0 L736.3,1128.0 L738.7,1096.7 L741.1,1094.0 L743.5,1138.5 L745.9,1087.1 L748.3,1120.1 L750.7,1087.9 L753.1,1132.2 L755.5,1149.4 L757.9,1114.5 L760.3,1088.0 L762.7,1133.2 L765.1,1132.7 L767.5,1114.1 L769.9,1168.0 L772.3,1090.1 L774.7,1111.2 L777.1,1109.3 L779.5,1113.7 L781.9,1111.4 L784.3,1103.2 L786.7,1127.4 L789.1,1101.5 L791.5,1119.9 L793.9,1124.1 L796.3,1091.0 L798.7,1140.9 L801.1,1153.7 L803.5,1129.4 L805.9,1094.1 L808.3,1109.5 L810.7,1124.5 L813.1,1104.3 L815.5,1106.4 L817.9,1109.8 L820.3,1142.5 L822.7,1144.5 L825.1,1119.8 L827.5,1112.7 L829.9,1096.6 L832.3,1137.9 L834.7,1110.6 L837.1,1111.0 L839.5,1113.0 L841.9,1111.3 L844.3,1109.8 L846.7,1112.6 L849.1,1098.7 L851.5,1120.3 L853.9,1165.2 L856.3,1098.0 L858.7,1119.5 L861.1,1106.3 L863.5,1112.3 L865.9,1141.0 L868.3,1103.4" fill="none" stroke="#10f010" stroke-width="4.8" stroke-linejoin="round" stroke-linecap="round" clip-path="url(#clipb)"/>
<path d="M184.6,817.9 L190.3,656.1 L196.0,664.0 L198.1,666.3 L200.2,668.6 L202.3,670.7 L204.4,671.2 L206.5,673.5 L208.6,673.5 L210.7,675.8 L212.8,676.4 L214.9,678.5 L217.0,678.6 L219.1,679.9 L221.2,681.2 L223.3,682.7 L225.4,683.7 L227.5,685.8 L229.6,685.9 L231.7,687.5 L233.8,689.3 L235.9,690.0 L238.0,691.8 L240.1,692.7 L242.2,693.6 L244.3,695.6 L246.4,695.7 L248.5,698.8 L250.6,699.9 L252.7,701.9 L254.8,702.9 L256.9,704.8 L259.0,706.3 L261.1,708.7 L263.2,709.7 L265.3,711.7 L267.4,713.3 L269.5,715.1 L271.6,716.3 L273.7,719.1 L275.8,721.3 L277.9,724.1 L280.0,727.5 L282.1,730.6 L284.2,733.0 L286.3,736.4 L288.4,739.5 L290.5,743.4 L292.6,747.0 L294.7,750.6 L296.8,754.7 L298.9,756.3 L301.0,756.9 L303.1,757.9 L305.2,759.8 L307.3,760.1 L309.4,761.3 L311.5,762.1 L313.6,763.9 L315.7,764.2 L317.8,765.1 L319.9,767.7 L322.0,770.3 L324.1,772.7 L326.2,775.4 L328.3,778.2 L330.4,781.0 L332.5,784.1 L334.6,787.3 L336.7,790.4 L338.8,794.0 L340.9,796.3 L343.0,799.7 L345.1,801.7 L347.2,803.8 L349.3,806.9 L351.4,808.9 L353.5,811.3 L355.6,814.3 L357.7,816.7 L359.8,818.8 L361.9,821.7 L364.0,824.1 L366.1,826.5 L368.2,829.9 L370.3,832.4 L372.4,836.2 L374.5,839.7 L376.6,842.1 L378.7,848.1 L380.8,854.2 L382.9,860.1 L385.0,867.6 L387.1,873.3 L389.2,883.5 L391.3,887.9 L393.4,894.3 L395.5,911.9 L397.6,916.6 L399.7,929.8 L401.8,942.5 L403.9,939.9 L406.0,952.8 L408.1,950.5 L410.2,961.1 L412.3,961.3 L414.4,978.2 L416.5,972.7 L418.6,968.7 L420.7,979.1 L422.8,978.9 L424.9,996.2 L427.0,990.9 L429.1,994.1 L431.2,991.0 L433.3,998.1 L435.4,1006.9 L437.5,997.6 L439.6,1008.7 L441.7,1000.2" fill="none" stroke="#0000e6" stroke-width="3.8" stroke-linejoin="round" stroke-linecap="round" clip-path="url(#clipb)"/>
<path d="M441.7,1000.2 L443.8,1018.2 L445.9,1009.7 L448.0,1008.3 L450.1,997.3 L452.2,1011.5 L454.3,1038.3 L456.4,1010.9 L458.5,1023.1 L460.6,1011.1 L462.7,1035.2 L464.8,1019.6 L466.9,1024.7 L469.0,1032.9 L471.1,1044.9 L473.2,1017.3 L475.3,1041.4 L477.4,1041.6 L479.5,1022.3 L481.6,1042.4 L483.7,1063.8 L485.8,1039.0 L487.9,1046.5 L490.0,1053.5 L492.1,1064.3 L494.2,1023.6 L496.3,1048.7 L498.4,1067.9 L500.5,1071.4 L502.6,1044.4 L504.7,1046.8 L506.8,1065.8 L509.0,1077.1 L511.1,1052.9 L513.3,1057.0 L515.4,1072.3 L517.6,1072.5 L519.8,1058.8 L522.0,1071.0 L524.2,1066.6 L526.4,1064.0 L528.7,1091.3 L530.9,1043.5 L533.2,1080.4 L535.4,1072.3 L537.7,1063.1 L540.0,1072.0 L542.3,1069.4 L544.6,1090.4 L546.9,1071.9 L549.3,1078.6 L551.6,1090.3 L554.0,1083.4 L556.3,1094.5 L558.7,1071.9 L561.1,1104.3 L563.5,1062.3 L565.9,1092.4 L568.3,1085.9 L570.7,1072.2 L573.1,1089.5 L575.5,1086.7 L577.9,1092.9 L580.3,1079.7 L582.7,1104.6 L585.1,1091.2 L587.5,1086.3 L589.9,1094.7 L592.3,1088.6 L594.7,1099.4 L597.1,1073.5 L599.5,1109.5 L601.9,1152.4 L604.3,1113.0 L606.7,1088.6 L609.1,1069.3 L611.5,1135.5 L613.9,1091.2 L616.3,1097.9 L618.7,1154.7 L621.1,1094.3 L623.5,1117.8 L625.9,1091.0 L628.3,1118.8 L630.7,1085.5 L633.1,1107.1 L635.5,1114.7 L637.9,1098.7 L640.3,1122.4 L642.7,1100.1 L645.1,1090.3 L647.5,1112.8 L649.9,1089.9 L652.3,1119.9 L654.7,1095.1 L657.1,1143.7 L659.5,1102.1 L661.9,1095.7 L664.3,1089.1 L666.7,1114.8 L669.1,1106.4 L671.5,1090.3 L673.9,1135.2 L676.3,1089.0 L678.7,1105.0 L681.1,1112.4 L683.5,1107.3 L685.9,1118.4 L688.3,1103.4 L690.7,1100.4 L693.1,1090.4 L695.5,1112.8 L697.9,1104.6 L700.3,1132.5 L702.7,1101.5 L705.1,1098.0 L707.5,1113.9 L709.9,1105.0 L712.3,1111.8 L714.7,1130.1 L717.1,1077.8 L719.5,1175.0 L721.9,1107.0 L724.3,1098.2 L726.7,1093.9 L729.1,1112.1 L731.5,1102.3 L733.9,1175.0 L736.3,1100.8 L738.7,1096.0 L741.1,1110.6 L743.5,1175.0 L745.9,1106.1 L748.3,1109.5 L750.7,1109.1 L753.1,1096.6 L755.5,1140.7 L757.9,1103.7 L760.3,1175.0 L762.7,1109.1 L765.1,1128.9 L767.5,1098.9 L769.9,1105.5 L772.3,1117.4 L774.7,1103.1 L777.1,1110.2 L779.5,1141.4 L781.9,1080.3 L784.3,1133.1 L786.7,1097.0 L789.1,1121.5 L791.5,1116.4 L793.9,1094.1 L796.3,1111.7 L798.7,1133.2 L801.1,1159.9 L803.5,1105.8 L805.9,1107.2 L808.3,1159.2 L810.7,1154.3 L813.1,1135.9 L815.5,1148.5 L817.9,1120.7 L820.3,1114.2 L822.7,1108.2 L825.1,1108.8 L827.5,1118.1 L829.9,1099.8 L832.3,1138.1 L834.7,1098.5 L837.1,1136.2 L839.5,1112.8 L841.9,1110.2 L844.3,1096.5 L846.7,1124.5 L849.1,1175.0 L851.5,1105.1 L853.9,1115.5 L856.3,1136.3 L858.7,1096.7 L861.1,1105.1 L863.5,1144.0 L865.9,1097.7 L868.3,1123.7" fill="none" stroke="#0000e6" stroke-width="4.8" stroke-linejoin="round" stroke-linecap="round" clip-path="url(#clipb)"/>
<g stroke="#111" stroke-width="2"><line x1="177.3" y1="549.5" x2="183.3" y2="549.5"/><line x1="862.3" y1="549.5" x2="867.3" y2="549.5"/><line x1="177.3" y1="542.1" x2="183.3" y2="542.1"/><line x1="862.3" y1="542.1" x2="867.3" y2="542.1"/><line x1="177.3" y1="535.7" x2="183.3" y2="535.7"/><line x1="862.3" y1="535.7" x2="867.3" y2="535.7"/><line x1="173.3" y1="529.9" x2="183.3" y2="529.9"/><line x1="858.3" y1="529.9" x2="867.3" y2="529.9"/><line x1="177.3" y1="491.8" x2="183.3" y2="491.8"/><line x1="862.3" y1="491.8" x2="867.3" y2="491.8"/><line x1="177.3" y1="469.6" x2="183.3" y2="469.6"/><line x1="862.3" y1="469.6" x2="867.3" y2="469.6"/><line x1="177.3" y1="453.8" x2="183.3" y2="453.8"/><line x1="862.3" y1="453.8" x2="867.3" y2="453.8"/><line x1="177.3" y1="441.6" x2="183.3" y2="441.6"/><line x1="862.3" y1="441.6" x2="867.3" y2="441.6"/><line x1="177.3" y1="431.5" x2="183.3" y2="431.5"/><line x1="862.3" y1="431.5" x2="867.3" y2="431.5"/><line x1="177.3" y1="423.1" x2="183.3" y2="423.1"/><line x1="862.3" y1="423.1" x2="867.3" y2="423.1"/><line x1="177.3" y1="415.7" x2="183.3" y2="415.7"/><line x1="862.3" y1="415.7" x2="867.3" y2="415.7"/><line x1="177.3" y1="409.3" x2="183.3" y2="409.3"/><line x1="862.3" y1="409.3" x2="867.3" y2="409.3"/><line x1="173.3" y1="403.5" x2="183.3" y2="403.5"/><line x1="858.3" y1="403.5" x2="867.3" y2="403.5"/><line x1="177.3" y1="365.4" x2="183.3" y2="365.4"/><line x1="862.3" y1="365.4" x2="867.3" y2="365.4"/><line x1="177.3" y1="343.2" x2="183.3" y2="343.2"/><line x1="862.3" y1="343.2" x2="867.3" y2="343.2"/><line x1="177.3" y1="327.4" x2="183.3" y2="327.4"/><line x1="862.3" y1="327.4" x2="867.3" y2="327.4"/><line x1="177.3" y1="315.2" x2="183.3" y2="315.2"/><line x1="862.3" y1="315.2" x2="867.3" y2="315.2"/><line x1="177.3" y1="305.1" x2="183.3" y2="305.1"/><line x1="862.3" y1="305.1" x2="867.3" y2="305.1"/><line x1="177.3" y1="296.7" x2="183.3" y2="296.7"/><line x1="862.3" y1="296.7" x2="867.3" y2="296.7"/><line x1="177.3" y1="289.3" x2="183.3" y2="289.3"/><line x1="862.3" y1="289.3" x2="867.3" y2="289.3"/><line x1="177.3" y1="282.9" x2="183.3" y2="282.9"/><line x1="862.3" y1="282.9" x2="867.3" y2="282.9"/><line x1="173.3" y1="277.1" x2="183.3" y2="277.1"/><line x1="858.3" y1="277.1" x2="867.3" y2="277.1"/><line x1="177.3" y1="239.0" x2="183.3" y2="239.0"/><line x1="862.3" y1="239.0" x2="867.3" y2="239.0"/><line x1="177.3" y1="216.8" x2="183.3" y2="216.8"/><line x1="862.3" y1="216.8" x2="867.3" y2="216.8"/><line x1="177.3" y1="201.0" x2="183.3" y2="201.0"/><line x1="862.3" y1="201.0" x2="867.3" y2="201.0"/><line x1="177.3" y1="188.8" x2="183.3" y2="188.8"/><line x1="862.3" y1="188.8" x2="867.3" y2="188.8"/><line x1="177.3" y1="178.7" x2="183.3" y2="178.7"/><line x1="862.3" y1="178.7" x2="867.3" y2="178.7"/><line x1="177.3" y1="170.3" x2="183.3" y2="170.3"/><line x1="862.3" y1="170.3" x2="867.3" y2="170.3"/><line x1="177.3" y1="162.9" x2="183.3" y2="162.9"/><line x1="862.3" y1="162.9" x2="867.3" y2="162.9"/><line x1="177.3" y1="156.5" x2="183.3" y2="156.5"/><line x1="862.3" y1="156.5" x2="867.3" y2="156.5"/><line x1="173.3" y1="150.7" x2="183.3" y2="150.7"/><line x1="858.3" y1="150.7" x2="867.3" y2="150.7"/><line x1="177.3" y1="112.6" x2="183.3" y2="112.6"/><line x1="862.3" y1="112.6" x2="867.3" y2="112.6"/><line x1="177.3" y1="90.4" x2="183.3" y2="90.4"/><line x1="862.3" y1="90.4" x2="867.3" y2="90.4"/><line x1="177.3" y1="74.6" x2="183.3" y2="74.6"/><line x1="862.3" y1="74.6" x2="867.3" y2="74.6"/><line x1="177.3" y1="62.4" x2="183.3" y2="62.4"/><line x1="862.3" y1="62.4" x2="867.3" y2="62.4"/><line x1="177.3" y1="52.3" x2="183.3" y2="52.3"/><line x1="862.3" y1="52.3" x2="867.3" y2="52.3"/><line x1="177.3" y1="43.9" x2="183.3" y2="43.9"/><line x1="862.3" y1="43.9" x2="867.3" y2="43.9"/><line x1="177.3" y1="36.5" x2="183.3" y2="36.5"/><line x1="862.3" y1="36.5" x2="867.3" y2="36.5"/><line x1="177.3" y1="30.1" x2="183.3" y2="30.1"/><line x1="862.3" y1="30.1" x2="867.3" y2="30.1"/><line x1="173.3" y1="24.3" x2="183.3" y2="24.3"/><line x1="858.3" y1="24.3" x2="867.3" y2="24.3"/><line x1="183.3" y1="549.3" x2="183.3" y2="559.3"/><line x1="183.3" y1="24.3" x2="183.3" y2="34.3"/><line x1="228.9" y1="549.3" x2="228.9" y2="554.3"/><line x1="228.9" y1="24.3" x2="228.9" y2="29.3"/><line x1="274.5" y1="549.3" x2="274.5" y2="554.3"/><line x1="274.5" y1="24.3" x2="274.5" y2="29.3"/><line x1="320.1" y1="549.3" x2="320.1" y2="554.3"/><line x1="320.1" y1="24.3" x2="320.1" y2="29.3"/><line x1="365.7" y1="549.3" x2="365.7" y2="554.3"/><line x1="365.7" y1="24.3" x2="365.7" y2="29.3"/><line x1="411.3" y1="549.3" x2="411.3" y2="559.3"/><line x1="411.3" y1="24.3" x2="411.3" y2="34.3"/><line x1="456.9" y1="549.3" x2="456.9" y2="554.3"/><line x1="456.9" y1="24.3" x2="456.9" y2="29.3"/><line x1="502.5" y1="549.3" x2="502.5" y2="554.3"/><line x1="502.5" y1="24.3" x2="502.5" y2="29.3"/><line x1="548.1" y1="549.3" x2="548.1" y2="554.3"/><line x1="548.1" y1="24.3" x2="548.1" y2="29.3"/><line x1="593.7" y1="549.3" x2="593.7" y2="554.3"/><line x1="593.7" y1="24.3" x2="593.7" y2="29.3"/><line x1="639.3" y1="549.3" x2="639.3" y2="559.3"/><line x1="639.3" y1="24.3" x2="639.3" y2="34.3"/><line x1="684.9" y1="549.3" x2="684.9" y2="554.3"/><line x1="684.9" y1="24.3" x2="684.9" y2="29.3"/><line x1="730.5" y1="549.3" x2="730.5" y2="554.3"/><line x1="730.5" y1="24.3" x2="730.5" y2="29.3"/><line x1="776.1" y1="549.3" x2="776.1" y2="554.3"/><line x1="776.1" y1="24.3" x2="776.1" y2="29.3"/><line x1="821.7" y1="549.3" x2="821.7" y2="554.3"/><line x1="821.7" y1="24.3" x2="821.7" y2="29.3"/><line x1="867.3" y1="549.3" x2="867.3" y2="559.3"/><line x1="867.3" y1="24.3" x2="867.3" y2="34.3"/></g>
<rect x="183.3" y="24.3" width="684.0" height="525.0" fill="none" stroke="#111" stroke-width="2.2"/>
<g stroke="#111" stroke-width="2"><line x1="177.3" y1="1149.4" x2="183.3" y2="1149.4"/><line x1="862.3" y1="1149.4" x2="867.3" y2="1149.4"/><line x1="177.3" y1="1142.1" x2="183.3" y2="1142.1"/><line x1="862.3" y1="1142.1" x2="867.3" y2="1142.1"/><line x1="177.3" y1="1135.6" x2="183.3" y2="1135.6"/><line x1="862.3" y1="1135.6" x2="867.3" y2="1135.6"/><line x1="173.3" y1="1129.8" x2="183.3" y2="1129.8"/><line x1="858.3" y1="1129.8" x2="867.3" y2="1129.8"/><line x1="177.3" y1="1091.7" x2="183.3" y2="1091.7"/><line x1="862.3" y1="1091.7" x2="867.3" y2="1091.7"/><line x1="177.3" y1="1069.4" x2="183.3" y2="1069.4"/><line x1="862.3" y1="1069.4" x2="867.3" y2="1069.4"/><line x1="177.3" y1="1053.6" x2="183.3" y2="1053.6"/><line x1="862.3" y1="1053.6" x2="867.3" y2="1053.6"/><line x1="177.3" y1="1041.4" x2="183.3" y2="1041.4"/><line x1="862.3" y1="1041.4" x2="867.3" y2="1041.4"/><line x1="177.3" y1="1031.4" x2="183.3" y2="1031.4"/><line x1="862.3" y1="1031.4" x2="867.3" y2="1031.4"/><line x1="177.3" y1="1022.9" x2="183.3" y2="1022.9"/><line x1="862.3" y1="1022.9" x2="867.3" y2="1022.9"/><line x1="177.3" y1="1015.6" x2="183.3" y2="1015.6"/><line x1="862.3" y1="1015.6" x2="867.3" y2="1015.6"/><line x1="177.3" y1="1009.1" x2="183.3" y2="1009.1"/><line x1="862.3" y1="1009.1" x2="867.3" y2="1009.1"/><line x1="173.3" y1="1003.3" x2="183.3" y2="1003.3"/><line x1="858.3" y1="1003.3" x2="867.3" y2="1003.3"/><line x1="177.3" y1="965.2" x2="183.3" y2="965.2"/><line x1="862.3" y1="965.2" x2="867.3" y2="965.2"/><line x1="177.3" y1="942.9" x2="183.3" y2="942.9"/><line x1="862.3" y1="942.9" x2="867.3" y2="942.9"/><line x1="177.3" y1="927.1" x2="183.3" y2="927.1"/><line x1="862.3" y1="927.1" x2="867.3" y2="927.1"/><line x1="177.3" y1="914.9" x2="183.3" y2="914.9"/><line x1="862.3" y1="914.9" x2="867.3" y2="914.9"/><line x1="177.3" y1="904.9" x2="183.3" y2="904.9"/><line x1="862.3" y1="904.9" x2="867.3" y2="904.9"/><line x1="177.3" y1="896.4" x2="183.3" y2="896.4"/><line x1="862.3" y1="896.4" x2="867.3" y2="896.4"/><line x1="177.3" y1="889.1" x2="183.3" y2="889.1"/><line x1="862.3" y1="889.1" x2="867.3" y2="889.1"/><line x1="177.3" y1="882.6" x2="183.3" y2="882.6"/><line x1="862.3" y1="882.6" x2="867.3" y2="882.6"/><line x1="173.3" y1="876.8" x2="183.3" y2="876.8"/><line x1="858.3" y1="876.8" x2="867.3" y2="876.8"/><line x1="177.3" y1="838.7" x2="183.3" y2="838.7"/><line x1="862.3" y1="838.7" x2="867.3" y2="838.7"/><line x1="177.3" y1="816.4" x2="183.3" y2="816.4"/><line x1="862.3" y1="816.4" x2="867.3" y2="816.4"/><line x1="177.3" y1="800.6" x2="183.3" y2="800.6"/><line x1="862.3" y1="800.6" x2="867.3" y2="800.6"/><line x1="177.3" y1="788.4" x2="183.3" y2="788.4"/><line x1="862.3" y1="788.4" x2="867.3" y2="788.4"/><line x1="177.3" y1="778.4" x2="183.3" y2="778.4"/><line x1="862.3" y1="778.4" x2="867.3" y2="778.4"/><line x1="177.3" y1="769.9" x2="183.3" y2="769.9"/><line x1="862.3" y1="769.9" x2="867.3" y2="769.9"/><line x1="177.3" y1="762.6" x2="183.3" y2="762.6"/><line x1="862.3" y1="762.6" x2="867.3" y2="762.6"/><line x1="177.3" y1="756.1" x2="183.3" y2="756.1"/><line x1="862.3" y1="756.1" x2="867.3" y2="756.1"/><line x1="173.3" y1="750.3" x2="183.3" y2="750.3"/><line x1="858.3" y1="750.3" x2="867.3" y2="750.3"/><line x1="177.3" y1="712.2" x2="183.3" y2="712.2"/><line x1="862.3" y1="712.2" x2="867.3" y2="712.2"/><line x1="177.3" y1="689.9" x2="183.3" y2="689.9"/><line x1="862.3" y1="689.9" x2="867.3" y2="689.9"/><line x1="177.3" y1="674.1" x2="183.3" y2="674.1"/><line x1="862.3" y1="674.1" x2="867.3" y2="674.1"/><line x1="177.3" y1="661.9" x2="183.3" y2="661.9"/><line x1="862.3" y1="661.9" x2="867.3" y2="661.9"/><line x1="177.3" y1="651.9" x2="183.3" y2="651.9"/><line x1="862.3" y1="651.9" x2="867.3" y2="651.9"/><line x1="177.3" y1="643.4" x2="183.3" y2="643.4"/><line x1="862.3" y1="643.4" x2="867.3" y2="643.4"/><line x1="177.3" y1="636.1" x2="183.3" y2="636.1"/><line x1="862.3" y1="636.1" x2="867.3" y2="636.1"/><line x1="177.3" y1="629.6" x2="183.3" y2="629.6"/><line x1="862.3" y1="629.6" x2="867.3" y2="629.6"/><line x1="173.3" y1="623.8" x2="183.3" y2="623.8"/><line x1="858.3" y1="623.8" x2="867.3" y2="623.8"/><line x1="183.3" y1="1150.0" x2="183.3" y2="1160.0"/><line x1="183.3" y1="623.8" x2="183.3" y2="633.8"/><line x1="228.9" y1="1150.0" x2="228.9" y2="1155.0"/><line x1="228.9" y1="623.8" x2="228.9" y2="628.8"/><line x1="274.5" y1="1150.0" x2="274.5" y2="1155.0"/><line x1="274.5" y1="623.8" x2="274.5" y2="628.8"/><line x1="320.1" y1="1150.0" x2="320.1" y2="1155.0"/><line x1="320.1" y1="623.8" x2="320.1" y2="628.8"/><line x1="365.7" y1="1150.0" x2="365.7" y2="1155.0"/><line x1="365.7" y1="623.8" x2="365.7" y2="628.8"/><line x1="411.3" y1="1150.0" x2="411.3" y2="1160.0"/><line x1="411.3" y1="623.8" x2="411.3" y2="633.8"/><line x1="456.9" y1="1150.0" x2="456.9" y2="1155.0"/><line x1="456.9" y1="623.8" x2="456.9" y2="628.8"/><line x1="502.5" y1="1150.0" x2="502.5" y2="1155.0"/><line x1="502.5" y1="623.8" x2="502.5" y2="628.8"/><line x1="548.1" y1="1150.0" x2="548.1" y2="1155.0"/><line x1="548.1" y1="623.8" x2="548.1" y2="628.8"/><line x1="593.7" y1="1150.0" x2="593.7" y2="1155.0"/><line x1="593.7" y1="623.8" x2="593.7" y2="628.8"/><line x1="639.3" y1="1150.0" x2="639.3" y2="1160.0"/><line x1="639.3" y1="623.8" x2="639.3" y2="633.8"/><line x1="684.9" y1="1150.0" x2="684.9" y2="1155.0"/><line x1="684.9" y1="623.8" x2="684.9" y2="628.8"/><line x1="730.5" y1="1150.0" x2="730.5" y2="1155.0"/><line x1="730.5" y1="623.8" x2="730.5" y2="628.8"/><line x1="776.1" y1="1150.0" x2="776.1" y2="1155.0"/><line x1="776.1" y1="623.8" x2="776.1" y2="628.8"/><line x1="821.7" y1="1150.0" x2="821.7" y2="1155.0"/><line x1="821.7" y1="623.8" x2="821.7" y2="628.8"/><line x1="867.3" y1="1150.0" x2="867.3" y2="1160.0"/><line x1="867.3" y1="623.8" x2="867.3" y2="633.8"/></g>
<rect x="183.3" y="623.8" width="684.0" height="526.2" fill="none" stroke="#111" stroke-width="2.2"/>
<text x="92.58" y="38.58" font-size="41.97" fill="#000" stroke="#000" stroke-width="0.45" textLength="44.83" lengthAdjust="spacingAndGlyphs">10</text><text x="138.40" y="16.00" font-size="21.86" fill="#000" stroke="#000" stroke-width="0.45" textLength="26.63" lengthAdjust="spacingAndGlyphs">21</text><text x="92.58" y="164.98" font-size="41.97" fill="#000" stroke="#000" stroke-width="0.45" textLength="44.83" lengthAdjust="spacingAndGlyphs">10</text><text x="138.41" y="142.18" font-size="21.55" fill="#000" stroke="#000" stroke-width="0.45" textLength="26.37" lengthAdjust="spacingAndGlyphs">20</text><text x="92.58" y="291.38" font-size="41.97" fill="#000" stroke="#000" stroke-width="0.45" textLength="44.83" lengthAdjust="spacingAndGlyphs">10</text><text x="137.76" y="268.58" font-size="21.55" fill="#000" stroke="#000" stroke-width="0.45" textLength="27.30" lengthAdjust="spacingAndGlyphs">19</text><text x="92.58" y="417.78" font-size="41.97" fill="#000" stroke="#000" stroke-width="0.45" textLength="44.83" lengthAdjust="spacingAndGlyphs">10</text><text x="137.77" y="394.98" font-size="21.55" fill="#000" stroke="#000" stroke-width="0.45" textLength="27.16" lengthAdjust="spacingAndGlyphs">18</text><text x="92.58" y="544.18" font-size="41.97" fill="#000" stroke="#000" stroke-width="0.45" textLength="44.83" lengthAdjust="spacingAndGlyphs">10</text><text x="137.91" y="521.60" font-size="22.17" fill="#000" stroke="#000" stroke-width="0.45" textLength="25.05" lengthAdjust="spacingAndGlyphs">17</text><text x="92.58" y="638.08" font-size="41.97" fill="#000" stroke="#000" stroke-width="0.45" textLength="44.83" lengthAdjust="spacingAndGlyphs">10</text><text x="138.40" y="615.50" font-size="21.86" fill="#000" stroke="#000" stroke-width="0.45" textLength="26.63" lengthAdjust="spacingAndGlyphs">21</text><text x="92.58" y="764.58" font-size="41.97" fill="#000" stroke="#000" stroke-width="0.45" textLength="44.83" lengthAdjust="spacingAndGlyphs">10</text><text x="138.41" y="741.78" font-size="21.55" fill="#000" stroke="#000" stroke-width="0.45" textLength="26.37" lengthAdjust="spacingAndGlyphs">20</text><text x="92.58" y="891.08" font-size="41.97" fill="#000" stroke="#000" stroke-width="0.45" textLength="44.83" lengthAdjust="spacingAndGlyphs">10</text><text x="137.76" y="868.28" font-size="21.55" fill="#000" stroke="#000" stroke-width="0.45" textLength="27.30" lengthAdjust="spacingAndGlyphs">19</text><text x="92.58" y="1017.58" font-size="41.97" fill="#000" stroke="#000" stroke-width="0.45" textLength="44.83" lengthAdjust="spacingAndGlyphs">10</text><text x="137.77" y="994.78" font-size="21.55" fill="#000" stroke="#000" stroke-width="0.45" textLength="27.16" lengthAdjust="spacingAndGlyphs">18</text><text x="92.58" y="1144.08" font-size="41.97" fill="#000" stroke="#000" stroke-width="0.45" textLength="44.83" lengthAdjust="spacingAndGlyphs">10</text><text x="137.91" y="1121.50" font-size="22.17" fill="#000" stroke="#000" stroke-width="0.45" textLength="25.05" lengthAdjust="spacingAndGlyphs">17</text><text x="173.53" y="598.41" font-size="39.30" fill="#000" stroke="#000" stroke-width="0.45" textLength="20.39" lengthAdjust="spacingAndGlyphs">0</text><text x="388.65" y="598.41" font-size="39.30" fill="#000" stroke="#000" stroke-width="0.45" textLength="45.89" lengthAdjust="spacingAndGlyphs">50</text><text x="606.00" y="598.41" font-size="39.30" fill="#000" stroke="#000" stroke-width="0.45" textLength="66.74" lengthAdjust="spacingAndGlyphs">100</text><text x="833.17" y="598.41" font-size="39.30" fill="#000" stroke="#000" stroke-width="0.45">150</text><text x="173.53" y="1198.02" font-size="38.03" fill="#000" stroke="#000" stroke-width="0.45" textLength="20.39" lengthAdjust="spacingAndGlyphs">0</text><text x="388.65" y="1198.02" font-size="38.03" fill="#000" stroke="#000" stroke-width="0.45" textLength="45.89" lengthAdjust="spacingAndGlyphs">50</text><text x="606.00" y="1198.02" font-size="38.03" fill="#000" stroke="#000" stroke-width="0.45" textLength="66.74" lengthAdjust="spacingAndGlyphs">100</text><text x="833.17" y="1198.02" font-size="38.03" fill="#000" stroke="#000" stroke-width="0.45" textLength="65.13" lengthAdjust="spacingAndGlyphs">150</text><text x="384.39" y="1265.50" font-size="52.00" fill="#000" stroke="#000" stroke-width="0.45" textLength="281.67" lengthAdjust="spacingAndGlyphs">Depth (nm)</text><text x="330.12" y="97.90" font-size="40.41" fill="#0b8987" stroke="#0b8987" stroke-width="0.45" textLength="111.78" lengthAdjust="spacingAndGlyphs">&quot;Kink&quot;</text><text x="497.15" y="60.50" font-size="29.93" fill="#000" font-weight="bold" stroke="#000" stroke-width="0.35" textLength="228.12" lengthAdjust="spacingAndGlyphs">as-implanted N</text><text x="726.51" y="73.70" font-size="18.14" fill="#000" stroke="#000" stroke-width="0.45" textLength="9.90" lengthAdjust="spacingAndGlyphs">2</text><text x="736.09" y="42.36" font-size="18.24" fill="#000" font-weight="bold" stroke="#000" stroke-width="0.35" textLength="11.80" lengthAdjust="spacingAndGlyphs">+</text><text x="755.72" y="60.50" font-size="30.62" fill="#000" font-weight="bold" stroke="#000" stroke-width="0.35" textLength="97.82" lengthAdjust="spacingAndGlyphs">profile</text><text x="540.24" y="117.78" font-size="29.63" fill="#000" font-weight="bold" stroke="#000" stroke-width="0.35" textLength="189.58" lengthAdjust="spacingAndGlyphs">[10keV, 5x10</text><text x="732.98" y="100.80" font-size="16.96" fill="#000" font-weight="bold" stroke="#000" stroke-width="0.35">14</text><text x="753.53" y="119.40" font-size="30.56" fill="#000" font-weight="bold" stroke="#000" stroke-width="0.35" textLength="45.88" lengthAdjust="spacingAndGlyphs">cm</text><text x="799.91" y="100.80" font-size="15.71" fill="#000" font-weight="bold" stroke="#000" stroke-width="0.35" textLength="15.37" lengthAdjust="spacingAndGlyphs">-2</text><text x="816.82" y="118.89" font-size="30.05" fill="#000" font-weight="bold" stroke="#000" stroke-width="0.35" textLength="9.17" lengthAdjust="spacingAndGlyphs">]</text><text x="551.82" y="159.90" font-size="30.86" fill="#000" font-weight="bold" stroke="#000" stroke-width="0.35" textLength="232.61" lengthAdjust="spacingAndGlyphs">RTA 550°C, 30s</text><text x="551.82" y="200.70" font-size="30.86" fill="#000" font-weight="bold" stroke="#000" stroke-width="0.35" textLength="232.61" lengthAdjust="spacingAndGlyphs">RTA 600°C, 30s</text><text x="551.82" y="241.60" font-size="29.57" fill="#000" font-weight="bold" stroke="#000" stroke-width="0.35" textLength="232.61" lengthAdjust="spacingAndGlyphs">RTA 650°C, 30s</text><text x="190.84" y="265.40" font-size="31.59" fill="#0a0af0" font-weight="bold" stroke="#0a0af0" stroke-width="0.35" textLength="32.63" lengthAdjust="spacingAndGlyphs">14</text><text x="226.10" y="296.70" font-size="55.65" fill="#0a0af0" font-weight="bold" stroke="#0a0af0" stroke-width="0.35" textLength="38.92" lengthAdjust="spacingAndGlyphs">N</text><text x="601.22" y="302.20" font-size="39.45" fill="#0b8987" stroke="#0b8987" stroke-width="0.45" textLength="192.54" lengthAdjust="spacingAndGlyphs">Significant</text><text x="624.93" y="354.90" font-size="37.52" fill="#0b8987" stroke="#0b8987" stroke-width="0.45" textLength="204.62" lengthAdjust="spacingAndGlyphs">anomalous</text><text x="625.44" y="407.70" font-size="40.55" fill="#0b8987" stroke="#0b8987" stroke-width="0.45" textLength="200.11" lengthAdjust="spacingAndGlyphs">diffusion at</text><text x="752.94" y="468.00" font-size="39.86" fill="#0b8987" stroke="#0b8987" stroke-width="0.45" textLength="68.85" lengthAdjust="spacingAndGlyphs">650</text><text x="823.79" y="444.88" font-size="21.83" fill="#0b8987" stroke="#0b8987" stroke-width="0.45" textLength="12.63" lengthAdjust="spacingAndGlyphs">0</text><text x="838.15" y="468.00" font-size="39.86" fill="#0b8987" stroke="#0b8987" stroke-width="0.45" textLength="28.20" lengthAdjust="spacingAndGlyphs">C</text><text x="194.48" y="528.89" font-size="50.05" fill="#000" font-weight="bold" stroke="#000" stroke-width="0.35" textLength="66.46" lengthAdjust="spacingAndGlyphs">(a)</text><text x="317.73" y="535.30" font-size="40.14" fill="#0b8987" stroke="#0b8987" stroke-width="0.45" textLength="227.33" lengthAdjust="spacingAndGlyphs">a/c interface</text><text x="333.22" y="705.90" font-size="38.21" fill="#0b8987" stroke="#0b8987" stroke-width="0.45" textLength="111.68" lengthAdjust="spacingAndGlyphs">&quot;Kink&quot;</text><text x="505.05" y="659.90" font-size="29.10" fill="#000" font-weight="bold" stroke="#000" stroke-width="0.35" textLength="224.58" lengthAdjust="spacingAndGlyphs">as-implanted P</text><text x="731.75" y="640.39" font-size="16.08" fill="#000" font-weight="bold" stroke="#000" stroke-width="0.35" textLength="10.99" lengthAdjust="spacingAndGlyphs">+</text><text x="751.72" y="659.90" font-size="30.48" fill="#000" font-weight="bold" stroke="#000" stroke-width="0.35" textLength="97.93" lengthAdjust="spacingAndGlyphs">profile</text><text x="572.19" y="704.98" font-size="34.87" fill="#000" font-weight="bold" stroke="#000" stroke-width="0.35" textLength="156.45" lengthAdjust="spacingAndGlyphs">[11keV, 10</text><text x="731.27" y="689.34" font-size="15.71" fill="#000" font-weight="bold" stroke="#000" stroke-width="0.35" textLength="17.25" lengthAdjust="spacingAndGlyphs">15</text><text x="750.44" y="705.70" font-size="30.56" fill="#000" font-weight="bold" stroke="#000" stroke-width="0.35" textLength="45.35" lengthAdjust="spacingAndGlyphs">cm</text><text x="797.43" y="689.50" font-size="13.86" fill="#000" font-weight="bold" stroke="#000" stroke-width="0.35" textLength="14.82" lengthAdjust="spacingAndGlyphs">-2</text><text x="814.95" y="706.21" font-size="31.87" fill="#000" font-weight="bold" stroke="#000" stroke-width="0.35" textLength="8.42" lengthAdjust="spacingAndGlyphs">]</text><text x="586.62" y="748.00" font-size="28.86" fill="#000" font-weight="bold" stroke="#000" stroke-width="0.35" textLength="233.01" lengthAdjust="spacingAndGlyphs">RTA 550°C, 30s</text><text x="586.62" y="789.50" font-size="29.14" fill="#000" font-weight="bold" stroke="#000" stroke-width="0.35" textLength="233.01" lengthAdjust="spacingAndGlyphs">RTA 600°C, 30s</text><text x="586.62" y="830.30" font-size="29.14" fill="#000" font-weight="bold" stroke="#000" stroke-width="0.35" textLength="233.01" lengthAdjust="spacingAndGlyphs">RTA 650°C, 30s</text><text x="418.62" y="870.80" font-size="30.62" fill="#000" font-weight="bold" stroke="#000" stroke-width="0.35" textLength="382.73" lengthAdjust="spacingAndGlyphs">Capping Layer : 40 nm Al</text><text x="801.61" y="886.40" font-size="29.71" fill="#000" font-weight="bold" stroke="#000" stroke-width="0.35" textLength="15.76" lengthAdjust="spacingAndGlyphs">2</text><text x="819.20" y="870.80" font-size="31.43" fill="#000" font-weight="bold" stroke="#000" stroke-width="0.35" textLength="23.28" lengthAdjust="spacingAndGlyphs">O</text><text x="844.85" y="886.11" font-size="29.30" fill="#000" font-weight="bold" stroke="#000" stroke-width="0.35" textLength="14.38" lengthAdjust="spacingAndGlyphs">3</text><text x="197.68" y="755.50" font-size="29.58" fill="#fa0505" font-weight="bold" stroke="#fa0505" stroke-width="0.35" textLength="32.21" lengthAdjust="spacingAndGlyphs">31</text><text x="234.99" y="787.20" font-size="54.10" fill="#fa0505" font-weight="bold" stroke="#fa0505" stroke-width="0.35" textLength="33.93" lengthAdjust="spacingAndGlyphs">P</text><text x="190.54" y="975.60" font-size="37.79" fill="#800080" stroke="#800080" stroke-width="0.45" textLength="172.63" lengthAdjust="spacingAndGlyphs">Retarded</text><text x="189.93" y="1028.30" font-size="40.00" fill="#800080" stroke="#800080" stroke-width="0.45" textLength="162.90" lengthAdjust="spacingAndGlyphs">Diffusion</text><text x="189.87" y="1089.00" font-size="39.14" fill="#800080" stroke="#800080" stroke-width="0.45" textLength="175.02" lengthAdjust="spacingAndGlyphs">up to 600</text><text x="366.20" y="1067.17" font-size="22.68" fill="#800080" stroke="#800080" stroke-width="0.45">0</text><text x="379.85" y="1089.49" font-size="40.56" fill="#800080" stroke="#800080" stroke-width="0.45" textLength="28.20" lengthAdjust="spacingAndGlyphs">C</text><text x="499.93" y="949.00" font-size="38.76" fill="#0b8987" stroke="#0b8987" stroke-width="0.45" textLength="162.90" lengthAdjust="spacingAndGlyphs">Diffusion</text><text x="698.78" y="949.00" font-size="38.76" fill="#0b8987" stroke="#0b8987" stroke-width="0.45" textLength="145.54" lengthAdjust="spacingAndGlyphs">towards</text><text x="500.48" y="1009.30" font-size="38.76" fill="#0b8987" stroke="#0b8987" stroke-width="0.45" textLength="190.90" lengthAdjust="spacingAndGlyphs">the bulk at</text><text x="728.30" y="1010.39" font-size="40.99" fill="#0b8987" stroke="#0b8987" stroke-width="0.45" textLength="70.01" lengthAdjust="spacingAndGlyphs">650</text><text x="799.38" y="987.47" font-size="23.10" fill="#0b8987" stroke="#0b8987" stroke-width="0.45">0</text><text x="814.27" y="1010.29" font-size="40.56" fill="#0b8987" stroke="#0b8987" stroke-width="0.45" textLength="27.86" lengthAdjust="spacingAndGlyphs">C</text><text x="190.93" y="1133.89" font-size="50.05" fill="#000" font-weight="bold" stroke="#000" stroke-width="0.35" textLength="68.24" lengthAdjust="spacingAndGlyphs">(b)</text><text x="313.02" y="1135.80" font-size="39.86" fill="#0b8987" stroke="#0b8987" stroke-width="0.45" textLength="228.75" lengthAdjust="spacingAndGlyphs">a/c interface</text><g transform="translate(57,876) rotate(-90)"><text x="-2.23" y="0.30" font-size="58.34" fill="#000" stroke="#000" stroke-width="0.45" textLength="540.68" lengthAdjust="spacingAndGlyphs">Concentration (at/ cm</text><text x="539.06" y="-32.62" font-size="32.11" fill="#000" stroke="#000" stroke-width="0.45" textLength="18.58" lengthAdjust="spacingAndGlyphs">3</text><text x="560.88" y="-0.39" font-size="55.19" fill="#000" stroke="#000" stroke-width="0.45" textLength="14.95" lengthAdjust="spacingAndGlyphs">)</text></g><line x1="394.7" y1="115.7" x2="325.6" y2="143.9" stroke="#0b8987" stroke-width="5.8" stroke-linecap="round"/><path d="M305.7,152.0 L326.4,135.1 L332.3,149.6 Z" fill="#0b8987" stroke="#0b8987" stroke-width="2.4" stroke-linejoin="round"/><line x1="413" y1="50.4" x2="488" y2="50.4" stroke="#000" stroke-width="3.5"/><line x1="467.5" y1="148.1" x2="543.8" y2="148.1" stroke="#ee0a0a" stroke-width="3.5"/><line x1="467.5" y1="189.2" x2="543.8" y2="189.2" stroke="#10f010" stroke-width="3.5"/><line x1="467.5" y1="231.1" x2="543.8" y2="231.1" stroke="#0000e6" stroke-width="3.5"/><line x1="257.0" y1="354.0" x2="223.5" y2="354.0" stroke="#0a0af0" stroke-width="5" stroke-linecap="round"/><path d="M205.0,354.0 L227.5,347.7 L227.5,360.3 Z" fill="#0a0af0" stroke="#0a0af0" stroke-width="2.4" stroke-linejoin="round"/><line x1="584.0" y1="331.2" x2="380.0" y2="331.2" stroke="#0b8987" stroke-width="5" stroke-linecap="round"/><path d="M354.5,331.2 L384.0,323.0 L384.0,339.4 Z" fill="#0b8987" stroke="#0b8987" stroke-width="2.4" stroke-linejoin="round"/><line x1="399.4" y1="715.7" x2="328.9" y2="745.4" stroke="#0b8987" stroke-width="5.8" stroke-linecap="round"/><path d="M309.0,753.7 L329.5,736.6 L335.6,751.0 Z" fill="#0b8987" stroke="#0b8987" stroke-width="2.4" stroke-linejoin="round"/><line x1="420.8" y1="649.4" x2="495.7" y2="649.4" stroke="#000" stroke-width="3.5"/><line x1="503.2" y1="737" x2="578.7" y2="737" stroke="#ee0a0a" stroke-width="3.5"/><line x1="503.2" y1="777.7" x2="578.7" y2="777.7" stroke="#10f010" stroke-width="3.5"/><line x1="503.2" y1="818.9" x2="578.7" y2="818.9" stroke="#0000e6" stroke-width="3.5"/><line x1="252.7" y1="833.7" x2="219.0" y2="833.7" stroke="#fa0505" stroke-width="5" stroke-linecap="round"/><path d="M200.5,833.7 L223.0,827.1 L223.0,840.3 Z" fill="#fa0505" stroke="#fa0505" stroke-width="2.4" stroke-linejoin="round"/><line x1="376.0" y1="930.1" x2="217.5" y2="930.1" stroke="#800080" stroke-width="5.2" stroke-linecap="round"/><path d="M191.0,930.1 L221.5,922.3 L221.5,937.9 Z" fill="#800080" stroke="#800080" stroke-width="2.4" stroke-linejoin="round"/><line x1="389.0" y1="899.4" x2="562.5" y2="899.4" stroke="#0b8987" stroke-width="5" stroke-linecap="round"/><path d="M589.0,899.4 L558.5,907.2 L558.5,891.6 Z" fill="#0b8987" stroke="#0b8987" stroke-width="2.4" stroke-linejoin="round"/>
<line x1="297.3" y1="25.3" x2="297.3" y2="548.3" stroke="#0b8987" stroke-width="5.2"/>
<line x1="297.3" y1="624.8" x2="297.3" y2="1149.0" stroke="#0b8987" stroke-width="5.2"/>
</svg></body></html>
